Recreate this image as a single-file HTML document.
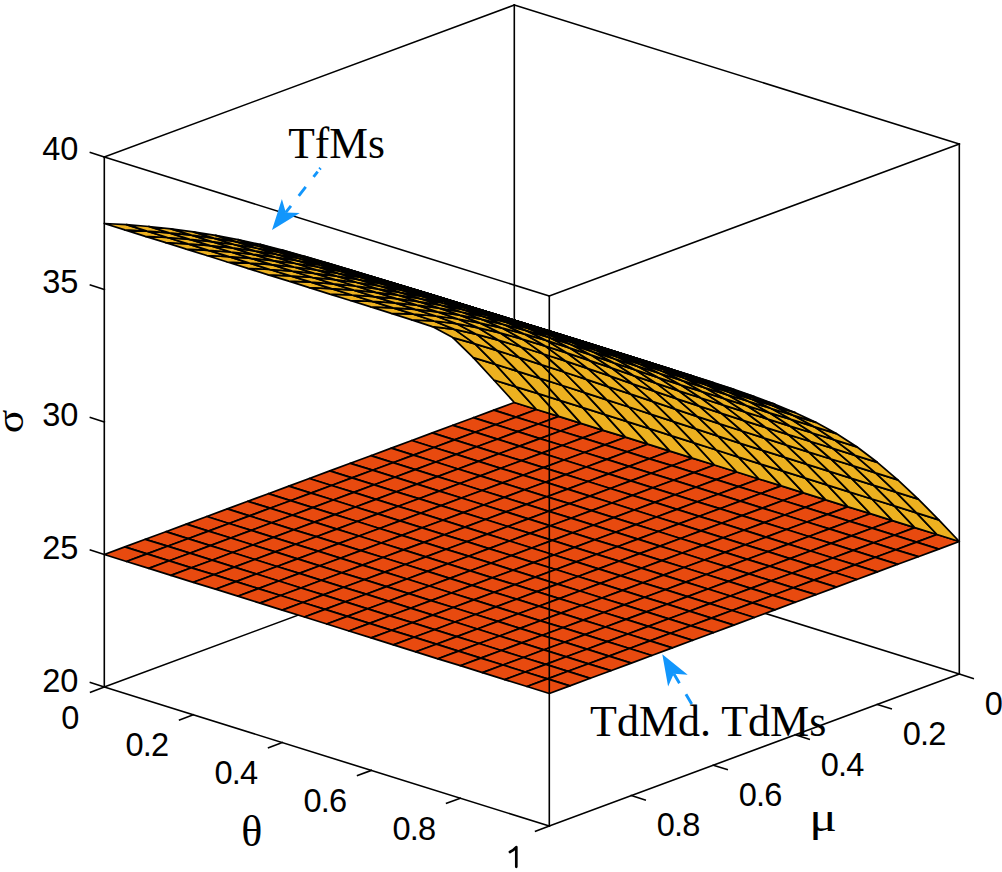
<!DOCTYPE html>
<html><head><meta charset="utf-8"><title>surface</title>
<style>html,body{margin:0;padding:0;background:#fff;overflow:hidden;}svg{display:block;}</style>
</head><body>
<svg width="1002" height="872" viewBox="0 0 1002 872">
<rect width="1002" height="872" fill="#fff"/>
<g stroke-linecap="square"><line x1="514.3" y1="5" x2="514.3" y2="535" stroke="#000" stroke-width="1.6"/><line x1="514.3" y1="535" x2="104.3" y2="687" stroke="#000" stroke-width="1.6"/><line x1="514.3" y1="535" x2="959.3" y2="674" stroke="#000" stroke-width="1.6"/><line x1="104.3" y1="157" x2="514.3" y2="5" stroke="#000" stroke-width="1.6"/><line x1="514.3" y1="5" x2="959.3" y2="144" stroke="#000" stroke-width="1.6"/></g>
<g stroke="#000" stroke-width="1.75" stroke-linejoin="round"><path d="M514.3 402.5 L536.5 409.5 L516 417.1 L493.8 410.1Z" fill="#e84a0f"/><path d="M514.3 402.5 L536.5 409.5 L516 386.8 L493.8 380Z" fill="#edb120"/><path d="M536.5 409.5 L558.8 416.4 L538.3 424 L516 417.1Z" fill="#e84a0f"/><path d="M493.8 410.1 L516 417.1 L495.5 424.7 L473.3 417.7Z" fill="#e84a0f"/><path d="M536.5 409.5 L558.8 416.4 L538.3 393.7 L516 386.8Z" fill="#edb120"/><path d="M493.8 380 L516 386.8 L495.5 364.4 L473.3 357.6Z" fill="#edb120"/><path d="M558.8 416.4 L581 423.4 L560.5 431 L538.3 424Z" fill="#e84a0f"/><path d="M516 417.1 L538.3 424 L517.8 431.6 L495.5 424.7Z" fill="#e84a0f"/><path d="M473.3 417.7 L495.5 424.7 L475 432.2 L452.8 425.3Z" fill="#e84a0f"/><path d="M558.8 416.4 L581 423.4 L560.5 400.6 L538.3 393.7Z" fill="#edb120"/><path d="M516 386.8 L538.3 393.7 L517.8 371.3 L495.5 364.4Z" fill="#edb120"/><path d="M581 423.4 L603.3 430.3 L582.8 437.9 L560.5 431Z" fill="#e84a0f"/><path d="M538.3 424 L560.5 431 L540 438.6 L517.8 431.6Z" fill="#e84a0f"/><path d="M495.5 424.7 L517.8 431.6 L497.3 439.2 L475 432.2Z" fill="#e84a0f"/><path d="M452.8 425.3 L475 432.2 L454.5 439.9 L432.3 432.9Z" fill="#e84a0f"/><path d="M581 423.4 L603.3 430.3 L582.8 407.6 L560.5 400.6Z" fill="#edb120"/><path d="M473.3 357.6 L495.5 364.4 L475 343.9 L452.8 337.6Z" fill="#edb120"/><path d="M538.3 393.7 L560.5 400.6 L540 378.4 L517.8 371.3Z" fill="#edb120"/><path d="M603.3 430.3 L625.5 437.2 L605 444.9 L582.8 437.9Z" fill="#e84a0f"/><path d="M560.5 431 L582.8 437.9 L562.3 445.5 L540 438.6Z" fill="#e84a0f"/><path d="M517.8 431.6 L540 438.6 L519.5 446.1 L497.3 439.2Z" fill="#e84a0f"/><path d="M475 432.2 L497.3 439.2 L476.8 446.8 L454.5 439.9Z" fill="#e84a0f"/><path d="M603.3 430.3 L625.5 437.2 L605 414.6 L582.8 407.6Z" fill="#edb120"/><path d="M432.3 432.9 L454.5 439.9 L434 447.5 L411.8 440.5Z" fill="#e84a0f"/><path d="M495.5 364.4 L517.8 371.3 L497.3 350.7 L475 343.9Z" fill="#edb120"/><path d="M560.5 400.6 L582.8 407.6 L562.3 385.5 L540 378.4Z" fill="#edb120"/><path d="M625.5 437.2 L647.8 444.2 L627.3 451.8 L605 444.9Z" fill="#e84a0f"/><path d="M582.8 437.9 L605 444.9 L584.5 452.5 L562.3 445.5Z" fill="#e84a0f"/><path d="M452.8 337.6 L475 343.9 L454.5 329.4 L432.3 326.6Z" fill="#edb120"/><path d="M540 438.6 L562.3 445.5 L541.8 453.1 L519.5 446.1Z" fill="#e84a0f"/><path d="M497.3 439.2 L519.5 446.1 L499 453.8 L476.8 446.8Z" fill="#e84a0f"/><path d="M625.5 437.2 L647.8 444.2 L627.3 421.6 L605 414.6Z" fill="#edb120"/><path d="M454.5 439.9 L476.8 446.8 L456.3 454.4 L434 447.5Z" fill="#e84a0f"/><path d="M411.8 440.5 L434 447.5 L413.5 455.1 L391.3 448.1Z" fill="#e84a0f"/><path d="M517.8 371.3 L540 378.4 L519.5 357.7 L497.3 350.7Z" fill="#edb120"/><path d="M582.8 407.6 L605 414.6 L584.5 392.6 L562.3 385.5Z" fill="#edb120"/><path d="M647.8 444.2 L670 451.1 L649.5 458.8 L627.3 451.8Z" fill="#e84a0f"/><path d="M605 444.9 L627.3 451.8 L606.8 459.4 L584.5 452.5Z" fill="#e84a0f"/><path d="M475 343.9 L497.3 350.7 L476.8 334.4 L454.5 329.4Z" fill="#edb120"/><path d="M562.3 445.5 L584.5 452.5 L564 460 L541.8 453.1Z" fill="#e84a0f"/><path d="M519.5 446.1 L541.8 453.1 L521.3 460.7 L499 453.8Z" fill="#e84a0f"/><path d="M647.8 444.2 L670 451.1 L649.5 428.7 L627.3 421.6Z" fill="#edb120"/><path d="M476.8 446.8 L499 453.8 L478.5 461.4 L456.3 454.4Z" fill="#e84a0f"/><path d="M434 447.5 L456.3 454.4 L435.8 462 L413.5 455.1Z" fill="#e84a0f"/><path d="M391.3 448.1 L413.5 455.1 L393 462.7 L370.8 455.7Z" fill="#e84a0f"/><path d="M432.3 326.6 L454.5 329.4 L434 321 L411.8 319.8Z" fill="#edb120"/><path d="M540 378.4 L562.3 385.5 L541.8 364.8 L519.5 357.7Z" fill="#edb120"/><path d="M605 414.6 L627.3 421.6 L606.8 399.8 L584.5 392.6Z" fill="#edb120"/><path d="M670 451.1 L692.3 458.1 L671.8 465.7 L649.5 458.8Z" fill="#e84a0f"/><path d="M627.3 451.8 L649.5 458.8 L629 466.4 L606.8 459.4Z" fill="#e84a0f"/><path d="M584.5 452.5 L606.8 459.4 L586.3 467 L564 460Z" fill="#e84a0f"/><path d="M497.3 350.7 L519.5 357.7 L499 340.4 L476.8 334.4Z" fill="#edb120"/><path d="M541.8 453.1 L564 460 L543.5 467.6 L521.3 460.7Z" fill="#e84a0f"/><path d="M670 451.1 L692.3 458.1 L671.8 435.8 L649.5 428.7Z" fill="#edb120"/><path d="M499 453.8 L521.3 460.7 L500.8 468.3 L478.5 461.4Z" fill="#e84a0f"/><path d="M456.3 454.4 L478.5 461.4 L458 469 L435.8 462Z" fill="#e84a0f"/><path d="M413.5 455.1 L435.8 462 L415.3 469.6 L393 462.7Z" fill="#e84a0f"/><path d="M562.3 385.5 L584.5 392.6 L564 372 L541.8 364.8Z" fill="#edb120"/><path d="M370.8 455.7 L393 462.7 L372.5 470.2 L350.3 463.3Z" fill="#e84a0f"/><path d="M454.5 329.4 L476.8 334.4 L456.3 323.6 L434 321Z" fill="#edb120"/><path d="M411.8 319.8 L434 321 L413.5 314.2 L391.3 313.3Z" fill="#edb120"/><path d="M627.3 421.6 L649.5 428.7 L629 407 L606.8 399.8Z" fill="#edb120"/><path d="M692.3 458.1 L714.5 465 L694 472.6 L671.8 465.7Z" fill="#e84a0f"/><path d="M649.5 458.8 L671.8 465.7 L651.3 473.3 L629 466.4Z" fill="#e84a0f"/><path d="M606.8 459.4 L629 466.4 L608.5 473.9 L586.3 467Z" fill="#e84a0f"/><path d="M519.5 357.7 L541.8 364.8 L521.3 347 L499 340.4Z" fill="#edb120"/><path d="M564 460 L586.3 467 L565.8 474.6 L543.5 467.6Z" fill="#e84a0f"/><path d="M692.3 458.1 L714.5 465 L694 442.9 L671.8 435.8Z" fill="#edb120"/><path d="M521.3 460.7 L543.5 467.6 L523 475.2 L500.8 468.3Z" fill="#e84a0f"/><path d="M478.5 461.4 L500.8 468.3 L480.3 475.9 L458 469Z" fill="#e84a0f"/><path d="M435.8 462 L458 469 L437.5 476.6 L415.3 469.6Z" fill="#e84a0f"/><path d="M584.5 392.6 L606.8 399.8 L586.3 379.4 L564 372Z" fill="#edb120"/><path d="M393 462.7 L415.3 469.6 L394.8 477.2 L372.5 470.2Z" fill="#e84a0f"/><path d="M476.8 334.4 L499 340.4 L478.5 327.9 L456.3 323.6Z" fill="#edb120"/><path d="M350.3 463.3 L372.5 470.2 L352 477.9 L329.8 470.9Z" fill="#e84a0f"/><path d="M649.5 428.7 L671.8 435.8 L651.3 414.3 L629 407Z" fill="#edb120"/><path d="M714.5 465 L736.8 472 L716.3 479.6 L694 472.6Z" fill="#e84a0f"/><path d="M434 321 L456.3 323.6 L435.8 316 L413.5 314.2Z" fill="#edb120"/><path d="M671.8 465.7 L694 472.6 L673.5 480.2 L651.3 473.3Z" fill="#e84a0f"/><path d="M629 466.4 L651.3 473.3 L630.8 480.9 L608.5 473.9Z" fill="#e84a0f"/><path d="M541.8 364.8 L564 372 L543.5 354 L521.3 347Z" fill="#edb120"/><path d="M586.3 467 L608.5 473.9 L588 481.5 L565.8 474.6Z" fill="#e84a0f"/><path d="M714.5 465 L736.8 472 L716.3 450 L694 442.9Z" fill="#edb120"/><path d="M391.3 313.3 L413.5 314.2 L393 307.8 L370.8 306.9Z" fill="#edb120"/><path d="M543.5 467.6 L565.8 474.6 L545.3 482.2 L523 475.2Z" fill="#e84a0f"/><path d="M500.8 468.3 L523 475.2 L502.5 482.9 L480.3 475.9Z" fill="#e84a0f"/><path d="M458 469 L480.3 475.9 L459.8 483.5 L437.5 476.6Z" fill="#e84a0f"/><path d="M606.8 399.8 L629 407 L608.5 386.8 L586.3 379.4Z" fill="#edb120"/><path d="M415.3 469.6 L437.5 476.6 L417 484.1 L394.8 477.2Z" fill="#e84a0f"/><path d="M499 340.4 L521.3 347 L500.8 333.2 L478.5 327.9Z" fill="#edb120"/><path d="M372.5 470.2 L394.8 477.2 L374.3 484.8 L352 477.9Z" fill="#e84a0f"/><path d="M329.8 470.9 L352 477.9 L331.5 485.5 L309.3 478.5Z" fill="#e84a0f"/><path d="M671.8 435.8 L694 442.9 L673.5 421.6 L651.3 414.3Z" fill="#edb120"/><path d="M736.8 472 L759 479 L738.5 486.6 L716.3 479.6Z" fill="#e84a0f"/><path d="M694 472.6 L716.3 479.6 L695.8 487.2 L673.5 480.2Z" fill="#e84a0f"/><path d="M456.3 323.6 L478.5 327.9 L458 319 L435.8 316Z" fill="#edb120"/><path d="M651.3 473.3 L673.5 480.2 L653 487.8 L630.8 480.9Z" fill="#e84a0f"/><path d="M564 372 L586.3 379.4 L565.8 361.2 L543.5 354Z" fill="#edb120"/><path d="M608.5 473.9 L630.8 480.9 L610.3 488.5 L588 481.5Z" fill="#e84a0f"/><path d="M736.8 472 L759 479 L738.5 457.1 L716.3 450Z" fill="#edb120"/><path d="M565.8 474.6 L588 481.5 L567.5 489.1 L545.3 482.2Z" fill="#e84a0f"/><path d="M413.5 314.2 L435.8 316 L415.3 309.4 L393 307.8Z" fill="#edb120"/><path d="M523 475.2 L545.3 482.2 L524.8 489.8 L502.5 482.9Z" fill="#e84a0f"/><path d="M480.3 475.9 L502.5 482.9 L482 490.5 L459.8 483.5Z" fill="#e84a0f"/><path d="M629 407 L651.3 414.3 L630.8 394.2 L608.5 386.8Z" fill="#edb120"/><path d="M437.5 476.6 L459.8 483.5 L439.3 491.1 L417 484.1Z" fill="#e84a0f"/><path d="M370.8 306.9 L393 307.8 L372.5 301.4 L350.3 300.5Z" fill="#edb120"/><path d="M521.3 347 L543.5 354 L523 339.4 L500.8 333.2Z" fill="#edb120"/><path d="M394.8 477.2 L417 484.1 L396.5 491.8 L374.3 484.8Z" fill="#e84a0f"/><path d="M352 477.9 L374.3 484.8 L353.8 492.4 L331.5 485.5Z" fill="#e84a0f"/><path d="M309.3 478.5 L331.5 485.5 L311 493.1 L288.8 486.1Z" fill="#e84a0f"/><path d="M694 442.9 L716.3 450 L695.8 428.9 L673.5 421.6Z" fill="#edb120"/><path d="M759 479 L781.3 485.9 L760.8 493.5 L738.5 486.6Z" fill="#e84a0f"/><path d="M716.3 479.6 L738.5 486.6 L718 494.2 L695.8 487.2Z" fill="#e84a0f"/><path d="M478.5 327.9 L500.8 333.2 L480.3 323.1 L458 319Z" fill="#edb120"/><path d="M673.5 480.2 L695.8 487.2 L675.3 494.8 L653 487.8Z" fill="#e84a0f"/><path d="M586.3 379.4 L608.5 386.8 L588 368.6 L565.8 361.2Z" fill="#edb120"/><path d="M630.8 480.9 L653 487.8 L632.5 495.4 L610.3 488.5Z" fill="#e84a0f"/><path d="M759 479 L781.3 485.9 L760.8 464.1 L738.5 457.1Z" fill="#edb120"/><path d="M588 481.5 L610.3 488.5 L589.8 496.1 L567.5 489.1Z" fill="#e84a0f"/><path d="M545.3 482.2 L567.5 489.1 L547 496.8 L524.8 489.8Z" fill="#e84a0f"/><path d="M435.8 316 L458 319 L437.5 311.8 L415.3 309.4Z" fill="#edb120"/><path d="M502.5 482.9 L524.8 489.8 L504.3 497.4 L482 490.5Z" fill="#e84a0f"/><path d="M651.3 414.3 L673.5 421.6 L653 401.7 L630.8 394.2Z" fill="#edb120"/><path d="M459.8 483.5 L482 490.5 L461.5 498 L439.3 491.1Z" fill="#e84a0f"/><path d="M543.5 354 L565.8 361.2 L545.3 346.1 L523 339.4Z" fill="#edb120"/><path d="M417 484.1 L439.3 491.1 L418.8 498.7 L396.5 491.8Z" fill="#e84a0f"/><path d="M393 307.8 L415.3 309.4 L394.8 302.9 L372.5 301.4Z" fill="#edb120"/><path d="M374.3 484.8 L396.5 491.8 L376 499.4 L353.8 492.4Z" fill="#e84a0f"/><path d="M331.5 485.5 L353.8 492.4 L333.3 500 L311 493.1Z" fill="#e84a0f"/><path d="M716.3 450 L738.5 457.1 L718 436.1 L695.8 428.9Z" fill="#edb120"/><path d="M781.3 485.9 L803.5 492.9 L783 500.5 L760.8 493.5Z" fill="#e84a0f"/><path d="M288.8 486.1 L311 493.1 L290.5 500.7 L268.3 493.7Z" fill="#e84a0f"/><path d="M350.3 300.5 L372.5 301.4 L352 295 L329.8 294.1Z" fill="#edb120"/><path d="M738.5 486.6 L760.8 493.5 L740.3 501.1 L718 494.2Z" fill="#e84a0f"/><path d="M608.5 386.8 L630.8 394.2 L610.3 376.1 L588 368.6Z" fill="#edb120"/><path d="M695.8 487.2 L718 494.2 L697.5 501.8 L675.3 494.8Z" fill="#e84a0f"/><path d="M500.8 333.2 L523 339.4 L502.5 328.2 L480.3 323.1Z" fill="#edb120"/><path d="M653 487.8 L675.3 494.8 L654.8 502.4 L632.5 495.4Z" fill="#e84a0f"/><path d="M781.3 485.9 L803.5 492.9 L783 471.1 L760.8 464.1Z" fill="#edb120"/><path d="M610.3 488.5 L632.5 495.4 L612 503 L589.8 496.1Z" fill="#e84a0f"/><path d="M567.5 489.1 L589.8 496.1 L569.3 503.7 L547 496.8Z" fill="#e84a0f"/><path d="M524.8 489.8 L547 496.8 L526.5 504.4 L504.3 497.4Z" fill="#e84a0f"/><path d="M673.5 421.6 L695.8 428.9 L675.3 409.2 L653 401.7Z" fill="#edb120"/><path d="M458 319 L480.3 323.1 L459.8 315.1 L437.5 311.8Z" fill="#edb120"/><path d="M482 490.5 L504.3 497.4 L483.8 505 L461.5 498Z" fill="#e84a0f"/><path d="M565.8 361.2 L588 368.6 L567.5 353.2 L545.3 346.1Z" fill="#edb120"/><path d="M439.3 491.1 L461.5 498 L441 505.6 L418.8 498.7Z" fill="#e84a0f"/><path d="M396.5 491.8 L418.8 498.7 L398.3 506.3 L376 499.4Z" fill="#e84a0f"/><path d="M415.3 309.4 L437.5 311.8 L417 305.1 L394.8 302.9Z" fill="#edb120"/><path d="M353.8 492.4 L376 499.4 L355.5 507 L333.3 500Z" fill="#e84a0f"/><path d="M738.5 457.1 L760.8 464.1 L740.3 443.3 L718 436.1Z" fill="#edb120"/><path d="M803.5 492.9 L825.8 499.8 L805.3 507.4 L783 500.5Z" fill="#e84a0f"/><path d="M311 493.1 L333.3 500 L312.8 507.6 L290.5 500.7Z" fill="#e84a0f"/><path d="M760.8 493.5 L783 500.5 L762.5 508.1 L740.3 501.1Z" fill="#e84a0f"/><path d="M268.3 493.7 L290.5 500.7 L270 508.2 L247.8 501.3Z" fill="#e84a0f"/><path d="M372.5 301.4 L394.8 302.9 L374.3 296.6 L352 295Z" fill="#edb120"/><path d="M630.8 394.2 L653 401.7 L632.5 383.8 L610.3 376.1Z" fill="#edb120"/><path d="M718 494.2 L740.3 501.1 L719.8 508.7 L697.5 501.8Z" fill="#e84a0f"/><path d="M523 339.4 L545.3 346.1 L524.8 334.2 L502.5 328.2Z" fill="#edb120"/><path d="M675.3 494.8 L697.5 501.8 L677 509.4 L654.8 502.4Z" fill="#e84a0f"/><path d="M803.5 492.9 L825.8 499.8 L805.3 478.1 L783 471.1Z" fill="#edb120"/><path d="M632.5 495.4 L654.8 502.4 L634.3 510 L612 503Z" fill="#e84a0f"/><path d="M329.8 294.1 L352 295 L331.5 288.6 L309.3 287.6Z" fill="#edb120"/><path d="M589.8 496.1 L612 503 L591.5 510.6 L569.3 503.7Z" fill="#e84a0f"/><path d="M547 496.8 L569.3 503.7 L548.8 511.3 L526.5 504.4Z" fill="#e84a0f"/><path d="M695.8 428.9 L718 436.1 L697.5 416.6 L675.3 409.2Z" fill="#edb120"/><path d="M480.3 323.1 L502.5 328.2 L482 319.4 L459.8 315.1Z" fill="#edb120"/><path d="M504.3 497.4 L526.5 504.4 L506 511.9 L483.8 505Z" fill="#e84a0f"/><path d="M588 368.6 L610.3 376.1 L589.8 360.6 L567.5 353.2Z" fill="#edb120"/><path d="M461.5 498 L483.8 505 L463.3 512.6 L441 505.6Z" fill="#e84a0f"/><path d="M418.8 498.7 L441 505.6 L420.5 513.2 L398.3 506.3Z" fill="#e84a0f"/><path d="M376 499.4 L398.3 506.3 L377.8 513.9 L355.5 507Z" fill="#e84a0f"/><path d="M760.8 464.1 L783 471.1 L762.5 450.4 L740.3 443.3Z" fill="#edb120"/><path d="M437.5 311.8 L459.8 315.1 L439.3 308.1 L417 305.1Z" fill="#edb120"/><path d="M825.8 499.8 L848 506.8 L827.5 514.4 L805.3 507.4Z" fill="#e84a0f"/><path d="M333.3 500 L355.5 507 L335 514.6 L312.8 507.6Z" fill="#e84a0f"/><path d="M783 500.5 L805.3 507.4 L784.8 515 L762.5 508.1Z" fill="#e84a0f"/><path d="M290.5 500.7 L312.8 507.6 L292.3 515.2 L270 508.2Z" fill="#e84a0f"/><path d="M653 401.7 L675.3 409.2 L654.8 391.4 L632.5 383.8Z" fill="#edb120"/><path d="M740.3 501.1 L762.5 508.1 L742 515.6 L719.8 508.7Z" fill="#e84a0f"/><path d="M247.8 501.3 L270 508.2 L249.5 515.9 L227.3 508.9Z" fill="#e84a0f"/><path d="M394.8 302.9 L417 305.1 L396.5 298.7 L374.3 296.6Z" fill="#edb120"/><path d="M545.3 346.1 L567.5 353.2 L547 340.7 L524.8 334.2Z" fill="#edb120"/><path d="M697.5 501.8 L719.8 508.7 L699.3 516.3 L677 509.4Z" fill="#e84a0f"/><path d="M825.8 499.8 L848 506.8 L827.5 485.1 L805.3 478.1Z" fill="#edb120"/><path d="M654.8 502.4 L677 509.4 L656.5 517 L634.3 510Z" fill="#e84a0f"/><path d="M612 503 L634.3 510 L613.8 517.6 L591.5 510.6Z" fill="#e84a0f"/><path d="M352 295 L374.3 296.6 L353.8 290.2 L331.5 288.6Z" fill="#edb120"/><path d="M718 436.1 L740.3 443.3 L719.8 423.8 L697.5 416.6Z" fill="#edb120"/><path d="M569.3 503.7 L591.5 510.6 L571 518.2 L548.8 511.3Z" fill="#e84a0f"/><path d="M526.5 504.4 L548.8 511.3 L528.3 518.9 L506 511.9Z" fill="#e84a0f"/><path d="M502.5 328.2 L524.8 334.2 L504.3 324.7 L482 319.4Z" fill="#edb120"/><path d="M610.3 376.1 L632.5 383.8 L612 368.2 L589.8 360.6Z" fill="#edb120"/><path d="M309.3 287.6 L331.5 288.6 L311 282.2 L288.8 281.2Z" fill="#edb120"/><path d="M483.8 505 L506 511.9 L485.5 519.5 L463.3 512.6Z" fill="#e84a0f"/><path d="M441 505.6 L463.3 512.6 L442.8 520.2 L420.5 513.2Z" fill="#e84a0f"/><path d="M783 471.1 L805.3 478.1 L784.8 457.4 L762.5 450.4Z" fill="#edb120"/><path d="M398.3 506.3 L420.5 513.2 L400 520.9 L377.8 513.9Z" fill="#e84a0f"/><path d="M848 506.8 L870.3 513.7 L849.8 521.3 L827.5 514.4Z" fill="#e84a0f"/><path d="M459.8 315.1 L482 319.4 L461.5 312 L439.3 308.1Z" fill="#edb120"/><path d="M355.5 507 L377.8 513.9 L357.3 521.5 L335 514.6Z" fill="#e84a0f"/><path d="M805.3 507.4 L827.5 514.4 L807 522 L784.8 515Z" fill="#e84a0f"/><path d="M312.8 507.6 L335 514.6 L314.5 522.1 L292.3 515.2Z" fill="#e84a0f"/><path d="M675.3 409.2 L697.5 416.6 L677 398.9 L654.8 391.4Z" fill="#edb120"/><path d="M762.5 508.1 L784.8 515 L764.3 522.6 L742 515.6Z" fill="#e84a0f"/><path d="M270 508.2 L292.3 515.2 L271.8 522.8 L249.5 515.9Z" fill="#e84a0f"/><path d="M567.5 353.2 L589.8 360.6 L569.3 347.8 L547 340.7Z" fill="#edb120"/><path d="M719.8 508.7 L742 515.6 L721.5 523.2 L699.3 516.3Z" fill="#e84a0f"/><path d="M848 506.8 L870.3 513.7 L849.8 492.1 L827.5 485.1Z" fill="#edb120"/><path d="M227.3 508.9 L249.5 515.9 L229 523.5 L206.8 516.5Z" fill="#e84a0f"/><path d="M417 305.1 L439.3 308.1 L418.8 301.6 L396.5 298.7Z" fill="#edb120"/><path d="M677 509.4 L699.3 516.3 L678.8 523.9 L656.5 517Z" fill="#e84a0f"/><path d="M634.3 510 L656.5 517 L636 524.6 L613.8 517.6Z" fill="#e84a0f"/><path d="M740.3 443.3 L762.5 450.4 L742 431 L719.8 423.8Z" fill="#edb120"/><path d="M591.5 510.6 L613.8 517.6 L593.3 525.2 L571 518.2Z" fill="#e84a0f"/><path d="M374.3 296.6 L396.5 298.7 L376 292.3 L353.8 290.2Z" fill="#edb120"/><path d="M548.8 511.3 L571 518.2 L550.5 525.8 L528.3 518.9Z" fill="#e84a0f"/><path d="M524.8 334.2 L547 340.7 L526.5 330.6 L504.3 324.7Z" fill="#edb120"/><path d="M632.5 383.8 L654.8 391.4 L634.3 375.9 L612 368.2Z" fill="#edb120"/><path d="M506 511.9 L528.3 518.9 L507.8 526.5 L485.5 519.5Z" fill="#e84a0f"/><path d="M463.3 512.6 L485.5 519.5 L465 527.1 L442.8 520.2Z" fill="#e84a0f"/><path d="M331.5 288.6 L353.8 290.2 L333.3 283.8 L311 282.2Z" fill="#edb120"/><path d="M805.3 478.1 L827.5 485.1 L807 464.4 L784.8 457.4Z" fill="#edb120"/><path d="M420.5 513.2 L442.8 520.2 L422.3 527.8 L400 520.9Z" fill="#e84a0f"/><path d="M870.3 513.7 L892.5 520.6 L872 528.2 L849.8 521.3Z" fill="#e84a0f"/><path d="M377.8 513.9 L400 520.9 L379.5 528.5 L357.3 521.5Z" fill="#e84a0f"/><path d="M482 319.4 L504.3 324.7 L483.8 316.7 L461.5 312Z" fill="#edb120"/><path d="M827.5 514.4 L849.8 521.3 L829.3 528.9 L807 522Z" fill="#e84a0f"/><path d="M288.8 281.2 L311 282.2 L290.5 275.8 L268.3 274.8Z" fill="#edb120"/><path d="M335 514.6 L357.3 521.5 L336.8 529.1 L314.5 522.1Z" fill="#e84a0f"/><path d="M697.5 416.6 L719.8 423.8 L699.3 406.2 L677 398.9Z" fill="#edb120"/><path d="M784.8 515 L807 522 L786.5 529.5 L764.3 522.6Z" fill="#e84a0f"/><path d="M292.3 515.2 L314.5 522.1 L294 529.8 L271.8 522.8Z" fill="#e84a0f"/><path d="M589.8 360.6 L612 368.2 L591.5 355.2 L569.3 347.8Z" fill="#edb120"/><path d="M742 515.6 L764.3 522.6 L743.8 530.2 L721.5 523.2Z" fill="#e84a0f"/><path d="M870.3 513.7 L892.5 520.6 L872 499 L849.8 492.1Z" fill="#edb120"/><path d="M249.5 515.9 L271.8 522.8 L251.3 530.4 L229 523.5Z" fill="#e84a0f"/><path d="M699.3 516.3 L721.5 523.2 L701 530.9 L678.8 523.9Z" fill="#e84a0f"/><path d="M439.3 308.1 L461.5 312 L441 305.2 L418.8 301.6Z" fill="#edb120"/><path d="M206.8 516.5 L229 523.5 L208.5 531.1 L186.3 524.1Z" fill="#e84a0f"/><path d="M656.5 517 L678.8 523.9 L658.3 531.5 L636 524.6Z" fill="#e84a0f"/><path d="M762.5 450.4 L784.8 457.4 L764.3 438.1 L742 431Z" fill="#edb120"/><path d="M613.8 517.6 L636 524.6 L615.5 532.2 L593.3 525.2Z" fill="#e84a0f"/><path d="M571 518.2 L593.3 525.2 L572.8 532.8 L550.5 525.8Z" fill="#e84a0f"/><path d="M396.5 298.7 L418.8 301.6 L398.3 295.1 L376 292.3Z" fill="#edb120"/><path d="M547 340.7 L569.3 347.8 L548.8 337.3 L526.5 330.6Z" fill="#edb120"/><path d="M654.8 391.4 L677 398.9 L656.5 383.4 L634.3 375.9Z" fill="#edb120"/><path d="M528.3 518.9 L550.5 525.8 L530 533.4 L507.8 526.5Z" fill="#e84a0f"/><path d="M485.5 519.5 L507.8 526.5 L487.3 534.1 L465 527.1Z" fill="#e84a0f"/><path d="M827.5 485.1 L849.8 492.1 L829.3 471.4 L807 464.4Z" fill="#edb120"/><path d="M442.8 520.2 L465 527.1 L444.5 534.8 L422.3 527.8Z" fill="#e84a0f"/><path d="M353.8 290.2 L376 292.3 L355.5 286 L333.3 283.8Z" fill="#edb120"/><path d="M892.5 520.6 L914.8 527.6 L894.3 535.2 L872 528.2Z" fill="#e84a0f"/><path d="M400 520.9 L422.3 527.8 L401.8 535.4 L379.5 528.5Z" fill="#e84a0f"/><path d="M504.3 324.7 L526.5 330.6 L506 322.2 L483.8 316.7Z" fill="#edb120"/><path d="M849.8 521.3 L872 528.2 L851.5 535.9 L829.3 528.9Z" fill="#e84a0f"/><path d="M357.3 521.5 L379.5 528.5 L359 536 L336.8 529.1Z" fill="#e84a0f"/><path d="M719.8 423.8 L742 431 L721.5 413.4 L699.3 406.2Z" fill="#edb120"/><path d="M807 522 L829.3 528.9 L808.8 536.5 L786.5 529.5Z" fill="#e84a0f"/><path d="M311 282.2 L333.3 283.8 L312.8 277.5 L290.5 275.8Z" fill="#edb120"/><path d="M314.5 522.1 L336.8 529.1 L316.3 536.7 L294 529.8Z" fill="#e84a0f"/><path d="M612 368.2 L634.3 375.9 L613.8 362.8 L591.5 355.2Z" fill="#edb120"/><path d="M764.3 522.6 L786.5 529.5 L766 537.1 L743.8 530.2Z" fill="#e84a0f"/><path d="M892.5 520.6 L914.8 527.6 L894.3 505.9 L872 499Z" fill="#edb120"/><path d="M271.8 522.8 L294 529.8 L273.5 537.4 L251.3 530.4Z" fill="#e84a0f"/><path d="M721.5 523.2 L743.8 530.2 L723.3 537.8 L701 530.9Z" fill="#e84a0f"/><path d="M229 523.5 L251.3 530.4 L230.8 538 L208.5 531.1Z" fill="#e84a0f"/><path d="M461.5 312 L483.8 316.7 L463.3 309.6 L441 305.2Z" fill="#edb120"/><path d="M268.3 274.8 L290.5 275.8 L270 269.5 L247.8 268.4Z" fill="#edb120"/><path d="M678.8 523.9 L701 530.9 L680.5 538.5 L658.3 531.5Z" fill="#e84a0f"/><path d="M186.3 524.1 L208.5 531.1 L188 538.7 L165.8 531.7Z" fill="#e84a0f"/><path d="M784.8 457.4 L807 464.4 L786.5 445.1 L764.3 438.1Z" fill="#edb120"/><path d="M636 524.6 L658.3 531.5 L637.8 539.1 L615.5 532.2Z" fill="#e84a0f"/><path d="M593.3 525.2 L615.5 532.2 L595 539.8 L572.8 532.8Z" fill="#e84a0f"/><path d="M569.3 347.8 L591.5 355.2 L571 344.5 L548.8 337.3Z" fill="#edb120"/><path d="M677 398.9 L699.3 406.2 L678.8 390.8 L656.5 383.4Z" fill="#edb120"/><path d="M418.8 301.6 L441 305.2 L420.5 298.7 L398.3 295.1Z" fill="#edb120"/><path d="M550.5 525.8 L572.8 532.8 L552.3 540.4 L530 533.4Z" fill="#e84a0f"/><path d="M507.8 526.5 L530 533.4 L509.5 541 L487.3 534.1Z" fill="#e84a0f"/><path d="M849.8 492.1 L872 499 L851.5 478.3 L829.3 471.4Z" fill="#edb120"/><path d="M465 527.1 L487.3 534.1 L466.8 541.7 L444.5 534.8Z" fill="#e84a0f"/><path d="M914.8 527.6 L937 534.5 L916.5 542.1 L894.3 535.2Z" fill="#e84a0f"/><path d="M422.3 527.8 L444.5 534.8 L424 542.4 L401.8 535.4Z" fill="#e84a0f"/><path d="M376 292.3 L398.3 295.1 L377.8 288.8 L355.5 286Z" fill="#edb120"/><path d="M872 528.2 L894.3 535.2 L873.8 542.8 L851.5 535.9Z" fill="#e84a0f"/><path d="M526.5 330.6 L548.8 337.3 L528.3 328.5 L506 322.2Z" fill="#edb120"/><path d="M379.5 528.5 L401.8 535.4 L381.3 543 L359 536Z" fill="#e84a0f"/><path d="M742 431 L764.3 438.1 L743.8 420.6 L721.5 413.4Z" fill="#edb120"/><path d="M829.3 528.9 L851.5 535.9 L831 543.4 L808.8 536.5Z" fill="#e84a0f"/><path d="M634.3 375.9 L656.5 383.4 L636 370.2 L613.8 362.8Z" fill="#edb120"/><path d="M336.8 529.1 L359 536 L338.5 543.6 L316.3 536.7Z" fill="#e84a0f"/><path d="M786.5 529.5 L808.8 536.5 L788.3 544.1 L766 537.1Z" fill="#e84a0f"/><path d="M914.8 527.6 L937 534.5 L916.5 512.9 L894.3 505.9Z" fill="#edb120"/><path d="M333.3 283.8 L355.5 286 L335 279.6 L312.8 277.5Z" fill="#edb120"/><path d="M294 529.8 L316.3 536.7 L295.8 544.3 L273.5 537.4Z" fill="#e84a0f"/><path d="M743.8 530.2 L766 537.1 L745.5 544.8 L723.3 537.8Z" fill="#e84a0f"/><path d="M251.3 530.4 L273.5 537.4 L253 545 L230.8 538Z" fill="#e84a0f"/><path d="M701 530.9 L723.3 537.8 L702.8 545.4 L680.5 538.5Z" fill="#e84a0f"/><path d="M483.8 316.7 L506 322.2 L485.5 314.8 L463.3 309.6Z" fill="#edb120"/><path d="M208.5 531.1 L230.8 538 L210.3 545.6 L188 538.7Z" fill="#e84a0f"/><path d="M807 464.4 L829.3 471.4 L808.8 452.1 L786.5 445.1Z" fill="#edb120"/><path d="M658.3 531.5 L680.5 538.5 L660 546.1 L637.8 539.1Z" fill="#e84a0f"/><path d="M290.5 275.8 L312.8 277.5 L292.3 271.1 L270 269.5Z" fill="#edb120"/><path d="M165.8 531.7 L188 538.7 L167.5 546.2 L145.3 539.3Z" fill="#e84a0f"/><path d="M615.5 532.2 L637.8 539.1 L617.3 546.7 L595 539.8Z" fill="#e84a0f"/><path d="M591.5 355.2 L613.8 362.8 L593.3 351.9 L571 344.5Z" fill="#edb120"/><path d="M699.3 406.2 L721.5 413.4 L701 398 L678.8 390.8Z" fill="#edb120"/><path d="M572.8 532.8 L595 539.8 L574.5 547.4 L552.3 540.4Z" fill="#e84a0f"/><path d="M441 305.2 L463.3 309.6 L442.8 302.9 L420.5 298.7Z" fill="#edb120"/><path d="M247.8 268.4 L270 269.5 L249.5 263.1 L227.3 262Z" fill="#edb120"/><path d="M530 533.4 L552.3 540.4 L531.8 548 L509.5 541Z" fill="#e84a0f"/><path d="M872 499 L894.3 505.9 L873.8 485.3 L851.5 478.3Z" fill="#edb120"/><path d="M487.3 534.1 L509.5 541 L489 548.6 L466.8 541.7Z" fill="#e84a0f"/><path d="M937 534.5 L959.3 541.5 L938.8 549.1 L916.5 542.1Z" fill="#e84a0f"/><path d="M444.5 534.8 L466.8 541.7 L446.3 549.3 L424 542.4Z" fill="#e84a0f"/><path d="M894.3 535.2 L916.5 542.1 L896 549.8 L873.8 542.8Z" fill="#e84a0f"/><path d="M398.3 295.1 L420.5 298.7 L400 292.3 L377.8 288.8Z" fill="#edb120"/><path d="M548.8 337.3 L571 344.5 L550.5 335.4 L528.3 328.5Z" fill="#edb120"/><path d="M401.8 535.4 L424 542.4 L403.5 549.9 L381.3 543Z" fill="#e84a0f"/><path d="M764.3 438.1 L786.5 445.1 L766 427.6 L743.8 420.6Z" fill="#edb120"/><path d="M851.5 535.9 L873.8 542.8 L853.3 550.4 L831 543.4Z" fill="#e84a0f"/><path d="M656.5 383.4 L678.8 390.8 L658.3 377.6 L636 370.2Z" fill="#edb120"/><path d="M359 536 L381.3 543 L360.8 550.6 L338.5 543.6Z" fill="#e84a0f"/><path d="M808.8 536.5 L831 543.4 L810.5 551 L788.3 544.1Z" fill="#e84a0f"/><path d="M937 534.5 L959.3 541.5 L938.8 519.8 L916.5 512.9Z" fill="#edb120"/><path d="M316.3 536.7 L338.5 543.6 L318 551.2 L295.8 544.3Z" fill="#e84a0f"/><path d="M766 537.1 L788.3 544.1 L767.8 551.7 L745.5 544.8Z" fill="#e84a0f"/><path d="M355.5 286 L377.8 288.8 L357.3 282.5 L335 279.6Z" fill="#edb120"/><path d="M273.5 537.4 L295.8 544.3 L275.3 551.9 L253 545Z" fill="#e84a0f"/><path d="M723.3 537.8 L745.5 544.8 L725 552.4 L702.8 545.4Z" fill="#e84a0f"/><path d="M230.8 538 L253 545 L232.5 552.5 L210.3 545.6Z" fill="#e84a0f"/><path d="M506 322.2 L528.3 328.5 L507.8 320.8 L485.5 314.8Z" fill="#edb120"/><path d="M829.3 471.4 L851.5 478.3 L831 459 L808.8 452.1Z" fill="#edb120"/><path d="M680.5 538.5 L702.8 545.4 L682.3 553 L660 546.1Z" fill="#e84a0f"/><path d="M188 538.7 L210.3 545.6 L189.8 553.2 L167.5 546.2Z" fill="#e84a0f"/><path d="M637.8 539.1 L660 546.1 L639.5 553.6 L617.3 546.7Z" fill="#e84a0f"/><path d="M312.8 277.5 L335 279.6 L314.5 273.3 L292.3 271.1Z" fill="#edb120"/><path d="M613.8 362.8 L636 370.2 L615.5 359.2 L593.3 351.9Z" fill="#edb120"/><path d="M721.5 413.4 L743.8 420.6 L723.3 405.1 L701 398Z" fill="#edb120"/><path d="M145.3 539.3 L167.5 546.2 L147 553.9 L124.8 546.9Z" fill="#e84a0f"/><path d="M595 539.8 L617.3 546.7 L596.8 554.3 L574.5 547.4Z" fill="#e84a0f"/><path d="M552.3 540.4 L574.5 547.4 L554 555 L531.8 548Z" fill="#e84a0f"/><path d="M463.3 309.6 L485.5 314.8 L465 307.9 L442.8 302.9Z" fill="#edb120"/><path d="M270 269.5 L292.3 271.1 L271.8 264.7 L249.5 263.1Z" fill="#edb120"/><path d="M894.3 505.9 L916.5 512.9 L896 492.2 L873.8 485.3Z" fill="#edb120"/><path d="M509.5 541 L531.8 548 L511.3 555.6 L489 548.6Z" fill="#e84a0f"/><path d="M466.8 541.7 L489 548.6 L468.5 556.2 L446.3 549.3Z" fill="#e84a0f"/><path d="M916.5 542.1 L938.8 549.1 L918.3 556.7 L896 549.8Z" fill="#e84a0f"/><path d="M571 344.5 L593.3 351.9 L572.8 342.6 L550.5 335.4Z" fill="#edb120"/><path d="M424 542.4 L446.3 549.3 L425.8 556.9 L403.5 549.9Z" fill="#e84a0f"/><path d="M786.5 445.1 L808.8 452.1 L788.3 434.6 L766 427.6Z" fill="#edb120"/><path d="M420.5 298.7 L442.8 302.9 L422.3 296.4 L400 292.3Z" fill="#edb120"/><path d="M227.3 262 L249.5 263.1 L229 256.7 L206.8 255.5Z" fill="#edb120"/><path d="M873.8 542.8 L896 549.8 L875.5 557.3 L853.3 550.4Z" fill="#e84a0f"/><path d="M678.8 390.8 L701 398 L680.5 384.8 L658.3 377.6Z" fill="#edb120"/><path d="M381.3 543 L403.5 549.9 L383 557.5 L360.8 550.6Z" fill="#e84a0f"/><path d="M831 543.4 L853.3 550.4 L832.8 558 L810.5 551Z" fill="#e84a0f"/><path d="M338.5 543.6 L360.8 550.6 L340.3 558.2 L318 551.2Z" fill="#e84a0f"/><path d="M788.3 544.1 L810.5 551 L790 558.6 L767.8 551.7Z" fill="#e84a0f"/><path d="M295.8 544.3 L318 551.2 L297.5 558.9 L275.3 551.9Z" fill="#e84a0f"/><path d="M377.8 288.8 L400 292.3 L379.5 285.9 L357.3 282.5Z" fill="#edb120"/><path d="M745.5 544.8 L767.8 551.7 L747.3 559.3 L725 552.4Z" fill="#e84a0f"/><path d="M253 545 L275.3 551.9 L254.8 559.5 L232.5 552.5Z" fill="#e84a0f"/><path d="M528.3 328.5 L550.5 335.4 L530 327.5 L507.8 320.8Z" fill="#edb120"/><path d="M851.5 478.3 L873.8 485.3 L853.3 465.9 L831 459Z" fill="#edb120"/><path d="M702.8 545.4 L725 552.4 L704.5 560 L682.3 553Z" fill="#e84a0f"/><path d="M210.3 545.6 L232.5 552.5 L212 560.2 L189.8 553.2Z" fill="#e84a0f"/><path d="M660 546.1 L682.3 553 L661.8 560.6 L639.5 553.6Z" fill="#e84a0f"/><path d="M636 370.2 L658.3 377.6 L637.8 366.4 L615.5 359.2Z" fill="#edb120"/><path d="M743.8 420.6 L766 427.6 L745.5 412.2 L723.3 405.1Z" fill="#edb120"/><path d="M167.5 546.2 L189.8 553.2 L169.3 560.8 L147 553.9Z" fill="#e84a0f"/><path d="M335 279.6 L357.3 282.5 L336.8 276.1 L314.5 273.3Z" fill="#edb120"/><path d="M617.3 546.7 L639.5 553.6 L619 561.2 L596.8 554.3Z" fill="#e84a0f"/><path d="M124.8 546.9 L147 553.9 L126.5 561.5 L104.3 554.5Z" fill="#e84a0f"/><path d="M574.5 547.4 L596.8 554.3 L576.3 561.9 L554 555Z" fill="#e84a0f"/><path d="M485.5 314.8 L507.8 320.8 L487.3 313.7 L465 307.9Z" fill="#edb120"/><path d="M916.5 512.9 L938.8 519.8 L918.3 499.1 L896 492.2Z" fill="#edb120"/><path d="M531.8 548 L554 555 L533.5 562.6 L511.3 555.6Z" fill="#e84a0f"/><path d="M292.3 271.1 L314.5 273.3 L294 267 L271.8 264.7Z" fill="#edb120"/><path d="M489 548.6 L511.3 555.6 L490.8 563.2 L468.5 556.2Z" fill="#e84a0f"/><path d="M593.3 351.9 L615.5 359.2 L595 349.8 L572.8 342.6Z" fill="#edb120"/><path d="M446.3 549.3 L468.5 556.2 L448 563.8 L425.8 556.9Z" fill="#e84a0f"/><path d="M808.8 452.1 L831 459 L810.5 441.5 L788.3 434.6Z" fill="#edb120"/><path d="M896 549.8 L918.3 556.7 L897.8 564.3 L875.5 557.3Z" fill="#e84a0f"/><path d="M701 398 L723.3 405.1 L702.8 391.9 L680.5 384.8Z" fill="#edb120"/><path d="M442.8 302.9 L465 307.9 L444.5 301.4 L422.3 296.4Z" fill="#edb120"/><path d="M403.5 549.9 L425.8 556.9 L405.3 564.5 L383 557.5Z" fill="#e84a0f"/><path d="M249.5 263.1 L271.8 264.7 L251.3 258.4 L229 256.7Z" fill="#edb120"/><path d="M853.3 550.4 L875.5 557.3 L855 564.9 L832.8 558Z" fill="#e84a0f"/><path d="M360.8 550.6 L383 557.5 L362.5 565.1 L340.3 558.2Z" fill="#e84a0f"/><path d="M810.5 551 L832.8 558 L812.3 565.6 L790 558.6Z" fill="#e84a0f"/><path d="M318 551.2 L340.3 558.2 L319.8 565.8 L297.5 558.9Z" fill="#e84a0f"/><path d="M767.8 551.7 L790 558.6 L769.5 566.2 L747.3 559.3Z" fill="#e84a0f"/><path d="M275.3 551.9 L297.5 558.9 L277 566.5 L254.8 559.5Z" fill="#e84a0f"/><path d="M550.5 335.4 L572.8 342.6 L552.3 334.5 L530 327.5Z" fill="#edb120"/><path d="M400 292.3 L422.3 296.4 L401.8 290.1 L379.5 285.9Z" fill="#edb120"/><path d="M206.8 255.5 L229 256.7 L208.5 250.3 L186.3 249.1Z" fill="#edb120"/><path d="M873.8 485.3 L896 492.2 L875.5 472.9 L853.3 465.9Z" fill="#edb120"/><path d="M725 552.4 L747.3 559.3 L726.8 566.9 L704.5 560Z" fill="#e84a0f"/><path d="M232.5 552.5 L254.8 559.5 L234.3 567.1 L212 560.2Z" fill="#e84a0f"/><path d="M682.3 553 L704.5 560 L684 567.5 L661.8 560.6Z" fill="#e84a0f"/><path d="M658.3 377.6 L680.5 384.8 L660 373.5 L637.8 366.4Z" fill="#edb120"/><path d="M766 427.6 L788.3 434.6 L767.8 419.1 L745.5 412.2Z" fill="#edb120"/><path d="M189.8 553.2 L212 560.2 L191.5 567.8 L169.3 560.8Z" fill="#e84a0f"/><path d="M639.5 553.6 L661.8 560.6 L641.3 568.2 L619 561.2Z" fill="#e84a0f"/><path d="M147 553.9 L169.3 560.8 L148.8 568.4 L126.5 561.5Z" fill="#e84a0f"/><path d="M357.3 282.5 L379.5 285.9 L359 279.6 L336.8 276.1Z" fill="#edb120"/><path d="M596.8 554.3 L619 561.2 L598.5 568.9 L576.3 561.9Z" fill="#e84a0f"/><path d="M507.8 320.8 L530 327.5 L509.5 320.3 L487.3 313.7Z" fill="#edb120"/><path d="M554 555 L576.3 561.9 L555.8 569.5 L533.5 562.6Z" fill="#e84a0f"/><path d="M511.3 555.6 L533.5 562.6 L513 570.2 L490.8 563.2Z" fill="#e84a0f"/><path d="M615.5 359.2 L637.8 366.4 L617.3 356.9 L595 349.8Z" fill="#edb120"/><path d="M314.5 273.3 L336.8 276.1 L316.3 269.8 L294 267Z" fill="#edb120"/><path d="M468.5 556.2 L490.8 563.2 L470.3 570.8 L448 563.8Z" fill="#e84a0f"/><path d="M831 459 L853.3 465.9 L832.8 448.4 L810.5 441.5Z" fill="#edb120"/><path d="M723.3 405.1 L745.5 412.2 L725 398.9 L702.8 391.9Z" fill="#edb120"/><path d="M425.8 556.9 L448 563.8 L427.5 571.4 L405.3 564.5Z" fill="#e84a0f"/><path d="M465 307.9 L487.3 313.7 L466.8 307 L444.5 301.4Z" fill="#edb120"/><path d="M875.5 557.3 L897.8 564.3 L877.3 571.9 L855 564.9Z" fill="#e84a0f"/><path d="M383 557.5 L405.3 564.5 L384.8 572.1 L362.5 565.1Z" fill="#e84a0f"/><path d="M832.8 558 L855 564.9 L834.5 572.5 L812.3 565.6Z" fill="#e84a0f"/><path d="M271.8 264.7 L294 267 L273.5 260.6 L251.3 258.4Z" fill="#edb120"/><path d="M340.3 558.2 L362.5 565.1 L342 572.8 L319.8 565.8Z" fill="#e84a0f"/><path d="M790 558.6 L812.3 565.6 L791.8 573.2 L769.5 566.2Z" fill="#e84a0f"/><path d="M297.5 558.9 L319.8 565.8 L299.3 573.4 L277 566.5Z" fill="#e84a0f"/><path d="M572.8 342.6 L595 349.8 L574.5 341.5 L552.3 334.5Z" fill="#edb120"/><path d="M896 492.2 L918.3 499.1 L897.8 479.8 L875.5 472.9Z" fill="#edb120"/><path d="M747.3 559.3 L769.5 566.2 L749 573.9 L726.8 566.9Z" fill="#e84a0f"/><path d="M422.3 296.4 L444.5 301.4 L424 294.9 L401.8 290.1Z" fill="#edb120"/><path d="M254.8 559.5 L277 566.5 L256.5 574 L234.3 567.1Z" fill="#e84a0f"/><path d="M229 256.7 L251.3 258.4 L230.8 252 L208.5 250.3Z" fill="#edb120"/><path d="M704.5 560 L726.8 566.9 L706.3 574.5 L684 567.5Z" fill="#e84a0f"/><path d="M680.5 384.8 L702.8 391.9 L682.3 380.6 L660 373.5Z" fill="#edb120"/><path d="M788.3 434.6 L810.5 441.5 L790 426.1 L767.8 419.1Z" fill="#edb120"/><path d="M212 560.2 L234.3 567.1 L213.8 574.7 L191.5 567.8Z" fill="#e84a0f"/><path d="M661.8 560.6 L684 567.5 L663.5 575.1 L641.3 568.2Z" fill="#e84a0f"/><path d="M169.3 560.8 L191.5 567.8 L171 575.4 L148.8 568.4Z" fill="#e84a0f"/><path d="M619 561.2 L641.3 568.2 L620.8 575.8 L598.5 568.9Z" fill="#e84a0f"/><path d="M379.5 285.9 L401.8 290.1 L381.3 283.7 L359 279.6Z" fill="#edb120"/><path d="M530 327.5 L552.3 334.5 L531.8 327.2 L509.5 320.3Z" fill="#edb120"/><path d="M186.3 249.1 L208.5 250.3 L188 243.9 L165.8 242.7Z" fill="#edb120"/><path d="M576.3 561.9 L598.5 568.9 L578 576.5 L555.8 569.5Z" fill="#e84a0f"/><path d="M533.5 562.6 L555.8 569.5 L535.3 577.1 L513 570.2Z" fill="#e84a0f"/><path d="M637.8 366.4 L660 373.5 L639.5 363.9 L617.3 356.9Z" fill="#edb120"/><path d="M490.8 563.2 L513 570.2 L492.5 577.8 L470.3 570.8Z" fill="#e84a0f"/><path d="M853.3 465.9 L875.5 472.9 L855 455.3 L832.8 448.4Z" fill="#edb120"/><path d="M336.8 276.1 L359 279.6 L338.5 273.3 L316.3 269.8Z" fill="#edb120"/><path d="M745.5 412.2 L767.8 419.1 L747.3 405.9 L725 398.9Z" fill="#edb120"/><path d="M448 563.8 L470.3 570.8 L449.8 578.4 L427.5 571.4Z" fill="#e84a0f"/><path d="M487.3 313.7 L509.5 320.3 L489 313.5 L466.8 307Z" fill="#edb120"/><path d="M405.3 564.5 L427.5 571.4 L407 579 L384.8 572.1Z" fill="#e84a0f"/><path d="M855 564.9 L877.3 571.9 L856.8 579.5 L834.5 572.5Z" fill="#e84a0f"/><path d="M362.5 565.1 L384.8 572.1 L364.3 579.7 L342 572.8Z" fill="#e84a0f"/><path d="M294 267 L316.3 269.8 L295.8 263.5 L273.5 260.6Z" fill="#edb120"/><path d="M812.3 565.6 L834.5 572.5 L814 580.1 L791.8 573.2Z" fill="#e84a0f"/><path d="M319.8 565.8 L342 572.8 L321.5 580.3 L299.3 573.4Z" fill="#e84a0f"/><path d="M595 349.8 L617.3 356.9 L596.8 348.5 L574.5 341.5Z" fill="#edb120"/><path d="M769.5 566.2 L791.8 573.2 L771.3 580.8 L749 573.9Z" fill="#e84a0f"/><path d="M277 566.5 L299.3 573.4 L278.8 581 L256.5 574Z" fill="#e84a0f"/><path d="M444.5 301.4 L466.8 307 L446.3 300.5 L424 294.9Z" fill="#edb120"/><path d="M726.8 566.9 L749 573.9 L728.5 581.4 L706.3 574.5Z" fill="#e84a0f"/><path d="M702.8 391.9 L725 398.9 L704.5 387.6 L682.3 380.6Z" fill="#edb120"/><path d="M810.5 441.5 L832.8 448.4 L812.3 433 L790 426.1Z" fill="#edb120"/><path d="M234.3 567.1 L256.5 574 L236 581.6 L213.8 574.7Z" fill="#e84a0f"/><path d="M251.3 258.4 L273.5 260.6 L253 254.3 L230.8 252Z" fill="#edb120"/><path d="M684 567.5 L706.3 574.5 L685.8 582.1 L663.5 575.1Z" fill="#e84a0f"/><path d="M191.5 567.8 L213.8 574.7 L193.3 582.3 L171 575.4Z" fill="#e84a0f"/><path d="M641.3 568.2 L663.5 575.1 L643 582.8 L620.8 575.8Z" fill="#e84a0f"/><path d="M552.3 334.5 L574.5 341.5 L554 334.1 L531.8 327.2Z" fill="#edb120"/><path d="M401.8 290.1 L424 294.9 L403.5 288.6 L381.3 283.7Z" fill="#edb120"/><path d="M598.5 568.9 L620.8 575.8 L600.3 583.4 L578 576.5Z" fill="#e84a0f"/><path d="M208.5 250.3 L230.8 252 L210.3 245.6 L188 243.9Z" fill="#edb120"/><path d="M555.8 569.5 L578 576.5 L557.5 584.1 L535.3 577.1Z" fill="#e84a0f"/><path d="M660 373.5 L682.3 380.6 L661.8 371 L639.5 363.9Z" fill="#edb120"/><path d="M513 570.2 L535.3 577.1 L514.8 584.7 L492.5 577.8Z" fill="#e84a0f"/><path d="M875.5 472.9 L897.8 479.8 L877.3 462.3 L855 455.3Z" fill="#edb120"/><path d="M767.8 419.1 L790 426.1 L769.5 412.8 L747.3 405.9Z" fill="#edb120"/><path d="M470.3 570.8 L492.5 577.8 L472 585.4 L449.8 578.4Z" fill="#e84a0f"/><path d="M359 279.6 L381.3 283.7 L360.8 277.4 L338.5 273.3Z" fill="#edb120"/><path d="M165.8 242.7 L188 243.9 L167.5 237.5 L145.3 236.3Z" fill="#edb120"/><path d="M509.5 320.3 L531.8 327.2 L511.3 320.3 L489 313.5Z" fill="#edb120"/><path d="M427.5 571.4 L449.8 578.4 L429.3 586 L407 579Z" fill="#e84a0f"/><path d="M384.8 572.1 L407 579 L386.5 586.6 L364.3 579.7Z" fill="#e84a0f"/><path d="M834.5 572.5 L856.8 579.5 L836.3 587.1 L814 580.1Z" fill="#e84a0f"/><path d="M342 572.8 L364.3 579.7 L343.8 587.3 L321.5 580.3Z" fill="#e84a0f"/><path d="M617.3 356.9 L639.5 363.9 L619 355.5 L596.8 348.5Z" fill="#edb120"/><path d="M316.3 269.8 L338.5 273.3 L318 266.9 L295.8 263.5Z" fill="#edb120"/><path d="M791.8 573.2 L814 580.1 L793.5 587.8 L771.3 580.8Z" fill="#e84a0f"/><path d="M299.3 573.4 L321.5 580.3 L301 588 L278.8 581Z" fill="#e84a0f"/><path d="M466.8 307 L489 313.5 L468.5 306.9 L446.3 300.5Z" fill="#edb120"/><path d="M725 398.9 L747.3 405.9 L726.8 394.6 L704.5 387.6Z" fill="#edb120"/><path d="M749 573.9 L771.3 580.8 L750.8 588.4 L728.5 581.4Z" fill="#e84a0f"/><path d="M832.8 448.4 L855 455.3 L834.5 439.9 L812.3 433Z" fill="#edb120"/><path d="M256.5 574 L278.8 581 L258.3 588.6 L236 581.6Z" fill="#e84a0f"/><path d="M706.3 574.5 L728.5 581.4 L708 589 L685.8 582.1Z" fill="#e84a0f"/><path d="M213.8 574.7 L236 581.6 L215.5 589.2 L193.3 582.3Z" fill="#e84a0f"/><path d="M273.5 260.6 L295.8 263.5 L275.3 257.1 L253 254.3Z" fill="#edb120"/><path d="M663.5 575.1 L685.8 582.1 L665.3 589.7 L643 582.8Z" fill="#e84a0f"/><path d="M574.5 341.5 L596.8 348.5 L576.3 341 L554 334.1Z" fill="#edb120"/><path d="M620.8 575.8 L643 582.8 L622.5 590.4 L600.3 583.4Z" fill="#e84a0f"/><path d="M424 294.9 L446.3 300.5 L425.8 294.1 L403.5 288.6Z" fill="#edb120"/><path d="M578 576.5 L600.3 583.4 L579.8 591 L557.5 584.1Z" fill="#e84a0f"/><path d="M230.8 252 L253 254.3 L232.5 247.9 L210.3 245.6Z" fill="#edb120"/><path d="M682.3 380.6 L704.5 387.6 L684 377.9 L661.8 371Z" fill="#edb120"/><path d="M535.3 577.1 L557.5 584.1 L537 591.6 L514.8 584.7Z" fill="#e84a0f"/><path d="M790 426.1 L812.3 433 L791.8 419.7 L769.5 412.8Z" fill="#edb120"/><path d="M492.5 577.8 L514.8 584.7 L494.3 592.3 L472 585.4Z" fill="#e84a0f"/><path d="M531.8 327.2 L554 334.1 L533.5 327.1 L511.3 320.3Z" fill="#edb120"/><path d="M381.3 283.7 L403.5 288.6 L383 282.2 L360.8 277.4Z" fill="#edb120"/><path d="M449.8 578.4 L472 585.4 L451.5 593 L429.3 586Z" fill="#e84a0f"/><path d="M188 243.9 L210.3 245.6 L189.8 239.3 L167.5 237.5Z" fill="#edb120"/><path d="M407 579 L429.3 586 L408.8 593.6 L386.5 586.6Z" fill="#e84a0f"/><path d="M364.3 579.7 L386.5 586.6 L366 594.2 L343.8 587.3Z" fill="#e84a0f"/><path d="M639.5 363.9 L661.8 371 L641.3 362.5 L619 355.5Z" fill="#edb120"/><path d="M814 580.1 L836.3 587.1 L815.8 594.7 L793.5 587.8Z" fill="#e84a0f"/><path d="M338.5 273.3 L360.8 277.4 L340.3 271.1 L318 266.9Z" fill="#edb120"/><path d="M321.5 580.3 L343.8 587.3 L323.3 594.9 L301 588Z" fill="#e84a0f"/><path d="M145.3 236.3 L167.5 237.5 L147 231.1 L124.8 229.9Z" fill="#edb120"/><path d="M489 313.5 L511.3 320.3 L490.8 313.6 L468.5 306.9Z" fill="#edb120"/><path d="M747.3 405.9 L769.5 412.8 L749 401.5 L726.8 394.6Z" fill="#edb120"/><path d="M771.3 580.8 L793.5 587.8 L773 595.3 L750.8 588.4Z" fill="#e84a0f"/><path d="M855 455.3 L877.3 462.3 L856.8 446.8 L834.5 439.9Z" fill="#edb120"/><path d="M278.8 581 L301 588 L280.5 595.5 L258.3 588.6Z" fill="#e84a0f"/><path d="M728.5 581.4 L750.8 588.4 L730.3 596 L708 589Z" fill="#e84a0f"/><path d="M236 581.6 L258.3 588.6 L237.8 596.2 L215.5 589.2Z" fill="#e84a0f"/><path d="M685.8 582.1 L708 589 L687.5 596.6 L665.3 589.7Z" fill="#e84a0f"/><path d="M295.8 263.5 L318 266.9 L297.5 260.6 L275.3 257.1Z" fill="#edb120"/><path d="M596.8 348.5 L619 355.5 L598.5 347.9 L576.3 341Z" fill="#edb120"/><path d="M643 582.8 L665.3 589.7 L644.8 597.3 L622.5 590.4Z" fill="#e84a0f"/><path d="M446.3 300.5 L468.5 306.9 L448 300.4 L425.8 294.1Z" fill="#edb120"/><path d="M600.3 583.4 L622.5 590.4 L602 598 L579.8 591Z" fill="#e84a0f"/><path d="M704.5 387.6 L726.8 394.6 L706.3 384.9 L684 377.9Z" fill="#edb120"/><path d="M557.5 584.1 L579.8 591 L559.3 598.6 L537 591.6Z" fill="#e84a0f"/><path d="M253 254.3 L275.3 257.1 L254.8 250.8 L232.5 247.9Z" fill="#edb120"/><path d="M812.3 433 L834.5 439.9 L814 426.6 L791.8 419.7Z" fill="#edb120"/><path d="M514.8 584.7 L537 591.6 L516.5 599.2 L494.3 592.3Z" fill="#e84a0f"/><path d="M554 334.1 L576.3 341 L555.8 333.9 L533.5 327.1Z" fill="#edb120"/><path d="M472 585.4 L494.3 592.3 L473.8 599.9 L451.5 593Z" fill="#e84a0f"/><path d="M403.5 288.6 L425.8 294.1 L405.3 287.8 L383 282.2Z" fill="#edb120"/><path d="M429.3 586 L451.5 593 L431 600.6 L408.8 593.6Z" fill="#e84a0f"/><path d="M210.3 245.6 L232.5 247.9 L212 241.6 L189.8 239.3Z" fill="#edb120"/><path d="M386.5 586.6 L408.8 593.6 L388.3 601.2 L366 594.2Z" fill="#e84a0f"/><path d="M661.8 371 L684 377.9 L663.5 369.5 L641.3 362.5Z" fill="#edb120"/><path d="M343.8 587.3 L366 594.2 L345.5 601.8 L323.3 594.9Z" fill="#e84a0f"/><path d="M511.3 320.3 L533.5 327.1 L513 320.4 L490.8 313.6Z" fill="#edb120"/><path d="M360.8 277.4 L383 282.2 L362.5 275.9 L340.3 271.1Z" fill="#edb120"/><path d="M769.5 412.8 L791.8 419.7 L771.3 408.5 L749 401.5Z" fill="#edb120"/><path d="M793.5 587.8 L815.8 594.7 L795.3 602.3 L773 595.3Z" fill="#e84a0f"/><path d="M301 588 L323.3 594.9 L302.8 602.5 L280.5 595.5Z" fill="#e84a0f"/><path d="M167.5 237.5 L189.8 239.3 L169.3 232.9 L147 231.1Z" fill="#edb120"/><path d="M750.8 588.4 L773 595.3 L752.5 602.9 L730.3 596Z" fill="#e84a0f"/><path d="M258.3 588.6 L280.5 595.5 L260 603.1 L237.8 596.2Z" fill="#e84a0f"/><path d="M708 589 L730.3 596 L709.8 603.6 L687.5 596.6Z" fill="#e84a0f"/><path d="M619 355.5 L641.3 362.5 L620.8 354.8 L598.5 347.9Z" fill="#edb120"/><path d="M665.3 589.7 L687.5 596.6 L667 604.2 L644.8 597.3Z" fill="#e84a0f"/><path d="M318 266.9 L340.3 271.1 L319.8 264.8 L297.5 260.6Z" fill="#edb120"/><path d="M124.8 229.9 L147 231.1 L126.5 224.7 L104.3 223.5Z" fill="#edb120"/><path d="M468.5 306.9 L490.8 313.6 L470.3 307.1 L448 300.4Z" fill="#edb120"/><path d="M622.5 590.4 L644.8 597.3 L624.3 604.9 L602 598Z" fill="#e84a0f"/><path d="M726.8 394.6 L749 401.5 L728.5 391.9 L706.3 384.9Z" fill="#edb120"/><path d="M579.8 591 L602 598 L581.5 605.5 L559.3 598.6Z" fill="#e84a0f"/><path d="M834.5 439.9 L856.8 446.8 L836.3 433.6 L814 426.6Z" fill="#edb120"/><path d="M537 591.6 L559.3 598.6 L538.8 606.2 L516.5 599.2Z" fill="#e84a0f"/><path d="M275.3 257.1 L297.5 260.6 L277 254.3 L254.8 250.8Z" fill="#edb120"/><path d="M576.3 341 L598.5 347.9 L578 340.8 L555.8 333.9Z" fill="#edb120"/><path d="M494.3 592.3 L516.5 599.2 L496 606.9 L473.8 599.9Z" fill="#e84a0f"/><path d="M425.8 294.1 L448 300.4 L427.5 294.1 L405.3 287.8Z" fill="#edb120"/><path d="M451.5 593 L473.8 599.9 L453.3 607.5 L431 600.6Z" fill="#e84a0f"/><path d="M408.8 593.6 L431 600.6 L410.5 608.2 L388.3 601.2Z" fill="#e84a0f"/><path d="M684 377.9 L706.3 384.9 L685.8 376.4 L663.5 369.5Z" fill="#edb120"/><path d="M232.5 247.9 L254.8 250.8 L234.3 244.5 L212 241.6Z" fill="#edb120"/><path d="M366 594.2 L388.3 601.2 L367.8 608.8 L345.5 601.8Z" fill="#e84a0f"/><path d="M533.5 327.1 L555.8 333.9 L535.3 327.2 L513 320.4Z" fill="#edb120"/><path d="M791.8 419.7 L814 426.6 L793.5 415.4 L771.3 408.5Z" fill="#edb120"/><path d="M383 282.2 L405.3 287.8 L384.8 281.5 L362.5 275.9Z" fill="#edb120"/><path d="M323.3 594.9 L345.5 601.8 L325 609.4 L302.8 602.5Z" fill="#e84a0f"/><path d="M773 595.3 L795.3 602.3 L774.8 609.9 L752.5 602.9Z" fill="#e84a0f"/><path d="M280.5 595.5 L302.8 602.5 L282.3 610.1 L260 603.1Z" fill="#e84a0f"/><path d="M189.8 239.3 L212 241.6 L191.5 235.2 L169.3 232.9Z" fill="#edb120"/><path d="M730.3 596 L752.5 602.9 L732 610.5 L709.8 603.6Z" fill="#e84a0f"/><path d="M641.3 362.5 L663.5 369.5 L643 361.8 L620.8 354.8Z" fill="#edb120"/><path d="M687.5 596.6 L709.8 603.6 L689.3 611.2 L667 604.2Z" fill="#e84a0f"/><path d="M490.8 313.6 L513 320.4 L492.5 313.9 L470.3 307.1Z" fill="#edb120"/><path d="M340.3 271.1 L362.5 275.9 L342 269.6 L319.8 264.8Z" fill="#edb120"/><path d="M644.8 597.3 L667 604.2 L646.5 611.9 L624.3 604.9Z" fill="#e84a0f"/><path d="M147 231.1 L169.3 232.9 L148.8 226.5 L126.5 224.7Z" fill="#edb120"/><path d="M749 401.5 L771.3 408.5 L750.8 398.8 L728.5 391.9Z" fill="#edb120"/><path d="M602 598 L624.3 604.9 L603.8 612.5 L581.5 605.5Z" fill="#e84a0f"/><path d="M559.3 598.6 L581.5 605.5 L561 613.1 L538.8 606.2Z" fill="#e84a0f"/><path d="M598.5 347.9 L620.8 354.8 L600.3 347.7 L578 340.8Z" fill="#edb120"/><path d="M297.5 260.6 L319.8 264.8 L299.3 258.5 L277 254.3Z" fill="#edb120"/><path d="M516.5 599.2 L538.8 606.2 L518.3 613.8 L496 606.9Z" fill="#e84a0f"/><path d="M448 300.4 L470.3 307.1 L449.8 300.7 L427.5 294.1Z" fill="#edb120"/><path d="M473.8 599.9 L496 606.9 L475.5 614.5 L453.3 607.5Z" fill="#e84a0f"/><path d="M431 600.6 L453.3 607.5 L432.8 615.1 L410.5 608.2Z" fill="#e84a0f"/><path d="M706.3 384.9 L728.5 391.9 L708 383.4 L685.8 376.4Z" fill="#edb120"/><path d="M388.3 601.2 L410.5 608.2 L390 615.8 L367.8 608.8Z" fill="#e84a0f"/><path d="M254.8 250.8 L277 254.3 L256.5 248 L234.3 244.5Z" fill="#edb120"/><path d="M555.8 333.9 L578 340.8 L557.5 334 L535.3 327.2Z" fill="#edb120"/><path d="M814 426.6 L836.3 433.6 L815.8 422.3 L793.5 415.4Z" fill="#edb120"/><path d="M345.5 601.8 L367.8 608.8 L347.3 616.4 L325 609.4Z" fill="#e84a0f"/><path d="M405.3 287.8 L427.5 294.1 L407 287.7 L384.8 281.5Z" fill="#edb120"/><path d="M302.8 602.5 L325 609.4 L304.5 617 L282.3 610.1Z" fill="#e84a0f"/><path d="M752.5 602.9 L774.8 609.9 L754.3 617.5 L732 610.5Z" fill="#e84a0f"/><path d="M212 241.6 L234.3 244.5 L213.8 238.2 L191.5 235.2Z" fill="#edb120"/><path d="M663.5 369.5 L685.8 376.4 L665.3 368.7 L643 361.8Z" fill="#edb120"/><path d="M709.8 603.6 L732 610.5 L711.5 618.1 L689.3 611.2Z" fill="#e84a0f"/><path d="M513 320.4 L535.3 327.2 L514.8 320.6 L492.5 313.9Z" fill="#edb120"/><path d="M362.5 275.9 L384.8 281.5 L364.3 275.2 L342 269.6Z" fill="#edb120"/><path d="M667 604.2 L689.3 611.2 L668.8 618.8 L646.5 611.9Z" fill="#e84a0f"/><path d="M771.3 408.5 L793.5 415.4 L773 405.7 L750.8 398.8Z" fill="#edb120"/><path d="M624.3 604.9 L646.5 611.9 L626 619.4 L603.8 612.5Z" fill="#e84a0f"/><path d="M169.3 232.9 L191.5 235.2 L171 228.9 L148.8 226.5Z" fill="#edb120"/><path d="M581.5 605.5 L603.8 612.5 L583.3 620.1 L561 613.1Z" fill="#e84a0f"/><path d="M620.8 354.8 L643 361.8 L622.5 354.6 L600.3 347.7Z" fill="#edb120"/><path d="M538.8 606.2 L561 613.1 L540.5 620.8 L518.3 613.8Z" fill="#e84a0f"/><path d="M470.3 307.1 L492.5 313.9 L472 307.4 L449.8 300.7Z" fill="#edb120"/><path d="M319.8 264.8 L342 269.6 L321.5 263.3 L299.3 258.5Z" fill="#edb120"/><path d="M496 606.9 L518.3 613.8 L497.8 621.4 L475.5 614.5Z" fill="#e84a0f"/><path d="M453.3 607.5 L475.5 614.5 L455 622 L432.8 615.1Z" fill="#e84a0f"/><path d="M728.5 391.9 L750.8 398.8 L730.3 390.3 L708 383.4Z" fill="#edb120"/><path d="M410.5 608.2 L432.8 615.1 L412.3 622.7 L390 615.8Z" fill="#e84a0f"/><path d="M578 340.8 L600.3 347.7 L579.8 340.9 L557.5 334Z" fill="#edb120"/><path d="M277 254.3 L299.3 258.5 L278.8 252.2 L256.5 248Z" fill="#edb120"/><path d="M367.8 608.8 L390 615.8 L369.5 623.4 L347.3 616.4Z" fill="#e84a0f"/><path d="M427.5 294.1 L449.8 300.7 L429.3 294.4 L407 287.7Z" fill="#edb120"/><path d="M325 609.4 L347.3 616.4 L326.8 624 L304.5 617Z" fill="#e84a0f"/><path d="M685.8 376.4 L708 383.4 L687.5 375.7 L665.3 368.7Z" fill="#edb120"/><path d="M732 610.5 L754.3 617.5 L733.8 625.1 L711.5 618.1Z" fill="#e84a0f"/><path d="M234.3 244.5 L256.5 248 L236 241.7 L213.8 238.2Z" fill="#edb120"/><path d="M535.3 327.2 L557.5 334 L537 327.5 L514.8 320.6Z" fill="#edb120"/><path d="M689.3 611.2 L711.5 618.1 L691 625.8 L668.8 618.8Z" fill="#e84a0f"/><path d="M384.8 281.5 L407 287.7 L386.5 281.4 L364.3 275.2Z" fill="#edb120"/><path d="M793.5 415.4 L815.8 422.3 L795.3 412.7 L773 405.7Z" fill="#edb120"/><path d="M646.5 611.9 L668.8 618.8 L648.3 626.4 L626 619.4Z" fill="#e84a0f"/><path d="M603.8 612.5 L626 619.4 L605.5 627 L583.3 620.1Z" fill="#e84a0f"/><path d="M191.5 235.2 L213.8 238.2 L193.3 231.8 L171 228.9Z" fill="#edb120"/><path d="M643 361.8 L665.3 368.7 L644.8 361.6 L622.5 354.6Z" fill="#edb120"/><path d="M561 613.1 L583.3 620.1 L562.8 627.7 L540.5 620.8Z" fill="#e84a0f"/><path d="M492.5 313.9 L514.8 320.6 L494.3 314.2 L472 307.4Z" fill="#edb120"/><path d="M342 269.6 L364.3 275.2 L343.8 268.9 L321.5 263.3Z" fill="#edb120"/><path d="M518.3 613.8 L540.5 620.8 L520 628.4 L497.8 621.4Z" fill="#e84a0f"/><path d="M475.5 614.5 L497.8 621.4 L477.3 629 L455 622Z" fill="#e84a0f"/><path d="M750.8 398.8 L773 405.7 L752.5 397.3 L730.3 390.3Z" fill="#edb120"/><path d="M432.8 615.1 L455 622 L434.5 629.7 L412.3 622.7Z" fill="#e84a0f"/><path d="M600.3 347.7 L622.5 354.6 L602 347.8 L579.8 340.9Z" fill="#edb120"/><path d="M390 615.8 L412.3 622.7 L391.8 630.3 L369.5 623.4Z" fill="#e84a0f"/><path d="M449.8 300.7 L472 307.4 L451.5 301.1 L429.3 294.4Z" fill="#edb120"/><path d="M299.3 258.5 L321.5 263.3 L301 257 L278.8 252.2Z" fill="#edb120"/><path d="M347.3 616.4 L369.5 623.4 L349 631 L326.8 624Z" fill="#e84a0f"/><path d="M708 383.4 L730.3 390.3 L709.8 382.6 L687.5 375.7Z" fill="#edb120"/><path d="M557.5 334 L579.8 340.9 L559.3 334.3 L537 327.5Z" fill="#edb120"/><path d="M256.5 248 L278.8 252.2 L258.3 245.9 L236 241.7Z" fill="#edb120"/><path d="M711.5 618.1 L733.8 625.1 L713.3 632.7 L691 625.8Z" fill="#e84a0f"/><path d="M407 287.7 L429.3 294.4 L408.8 288.1 L386.5 281.4Z" fill="#edb120"/><path d="M668.8 618.8 L691 625.8 L670.5 633.3 L648.3 626.4Z" fill="#e84a0f"/><path d="M626 619.4 L648.3 626.4 L627.8 634 L605.5 627Z" fill="#e84a0f"/><path d="M665.3 368.7 L687.5 375.7 L667 368.5 L644.8 361.6Z" fill="#edb120"/><path d="M583.3 620.1 L605.5 627 L585 634.6 L562.8 627.7Z" fill="#e84a0f"/><path d="M213.8 238.2 L236 241.7 L215.5 235.4 L193.3 231.8Z" fill="#edb120"/><path d="M514.8 320.6 L537 327.5 L516.5 321 L494.3 314.2Z" fill="#edb120"/><path d="M364.3 275.2 L386.5 281.4 L366 275.1 L343.8 268.9Z" fill="#edb120"/><path d="M540.5 620.8 L562.8 627.7 L542.3 635.3 L520 628.4Z" fill="#e84a0f"/><path d="M497.8 621.4 L520 628.4 L499.5 636 L477.3 629Z" fill="#e84a0f"/><path d="M773 405.7 L795.3 412.7 L774.8 404.2 L752.5 397.3Z" fill="#edb120"/><path d="M455 622 L477.3 629 L456.8 636.6 L434.5 629.7Z" fill="#e84a0f"/><path d="M622.5 354.6 L644.8 361.6 L624.3 354.8 L602 347.8Z" fill="#edb120"/><path d="M412.3 622.7 L434.5 629.7 L414 637.2 L391.8 630.3Z" fill="#e84a0f"/><path d="M472 307.4 L494.3 314.2 L473.8 307.8 L451.5 301.1Z" fill="#edb120"/><path d="M321.5 263.3 L343.8 268.9 L323.3 262.6 L301 257Z" fill="#edb120"/><path d="M369.5 623.4 L391.8 630.3 L371.3 637.9 L349 631Z" fill="#e84a0f"/><path d="M730.3 390.3 L752.5 397.3 L732 389.6 L709.8 382.6Z" fill="#edb120"/><path d="M579.8 340.9 L602 347.8 L581.5 341.2 L559.3 334.3Z" fill="#edb120"/><path d="M278.8 252.2 L301 257 L280.5 250.7 L258.3 245.9Z" fill="#edb120"/><path d="M429.3 294.4 L451.5 301.1 L431 294.7 L408.8 288.1Z" fill="#edb120"/><path d="M691 625.8 L713.3 632.7 L692.8 640.3 L670.5 633.3Z" fill="#e84a0f"/><path d="M648.3 626.4 L670.5 633.3 L650 640.9 L627.8 634Z" fill="#e84a0f"/><path d="M687.5 375.7 L709.8 382.6 L689.3 375.5 L667 368.5Z" fill="#edb120"/><path d="M605.5 627 L627.8 634 L607.3 641.6 L585 634.6Z" fill="#e84a0f"/><path d="M537 327.5 L559.3 334.3 L538.8 327.9 L516.5 321Z" fill="#edb120"/><path d="M236 241.7 L258.3 245.9 L237.8 239.6 L215.5 235.4Z" fill="#edb120"/><path d="M562.8 627.7 L585 634.6 L564.5 642.2 L542.3 635.3Z" fill="#e84a0f"/><path d="M386.5 281.4 L408.8 288.1 L388.3 281.8 L366 275.1Z" fill="#edb120"/><path d="M520 628.4 L542.3 635.3 L521.8 642.9 L499.5 636Z" fill="#e84a0f"/><path d="M477.3 629 L499.5 636 L479 643.5 L456.8 636.6Z" fill="#e84a0f"/><path d="M644.8 361.6 L667 368.5 L646.5 361.7 L624.3 354.8Z" fill="#edb120"/><path d="M434.5 629.7 L456.8 636.6 L436.3 644.2 L414 637.2Z" fill="#e84a0f"/><path d="M494.3 314.2 L516.5 321 L496 314.6 L473.8 307.8Z" fill="#edb120"/><path d="M343.8 268.9 L366 275.1 L345.5 268.8 L323.3 262.6Z" fill="#edb120"/><path d="M391.8 630.3 L414 637.2 L393.5 644.9 L371.3 637.9Z" fill="#e84a0f"/><path d="M752.5 397.3 L774.8 404.2 L754.3 396.5 L732 389.6Z" fill="#edb120"/><path d="M602 347.8 L624.3 354.8 L603.8 348.2 L581.5 341.2Z" fill="#edb120"/><path d="M451.5 301.1 L473.8 307.8 L453.3 301.5 L431 294.7Z" fill="#edb120"/><path d="M301 257 L323.3 262.6 L302.8 256.3 L280.5 250.7Z" fill="#edb120"/><path d="M670.5 633.3 L692.8 640.3 L672.3 647.9 L650 640.9Z" fill="#e84a0f"/><path d="M709.8 382.6 L732 389.6 L711.5 382.5 L689.3 375.5Z" fill="#edb120"/><path d="M627.8 634 L650 640.9 L629.5 648.5 L607.3 641.6Z" fill="#e84a0f"/><path d="M559.3 334.3 L581.5 341.2 L561 334.7 L538.8 327.9Z" fill="#edb120"/><path d="M585 634.6 L607.3 641.6 L586.8 649.2 L564.5 642.2Z" fill="#e84a0f"/><path d="M258.3 245.9 L280.5 250.7 L260 244.4 L237.8 239.6Z" fill="#edb120"/><path d="M408.8 288.1 L431 294.7 L410.5 288.4 L388.3 281.8Z" fill="#edb120"/><path d="M542.3 635.3 L564.5 642.2 L544 649.8 L521.8 642.9Z" fill="#e84a0f"/><path d="M499.5 636 L521.8 642.9 L501.3 650.5 L479 643.5Z" fill="#e84a0f"/><path d="M667 368.5 L689.3 375.5 L668.8 368.7 L646.5 361.7Z" fill="#edb120"/><path d="M456.8 636.6 L479 643.5 L458.5 651.1 L436.3 644.2Z" fill="#e84a0f"/><path d="M516.5 321 L538.8 327.9 L518.3 321.5 L496 314.6Z" fill="#edb120"/><path d="M366 275.1 L388.3 281.8 L367.8 275.5 L345.5 268.8Z" fill="#edb120"/><path d="M414 637.2 L436.3 644.2 L415.8 651.8 L393.5 644.9Z" fill="#e84a0f"/><path d="M624.3 354.8 L646.5 361.7 L626 355.1 L603.8 348.2Z" fill="#edb120"/><path d="M473.8 307.8 L496 314.6 L475.5 308.3 L453.3 301.5Z" fill="#edb120"/><path d="M323.3 262.6 L345.5 268.8 L325 262.5 L302.8 256.3Z" fill="#edb120"/><path d="M732 389.6 L754.3 396.5 L733.8 389.4 L711.5 382.5Z" fill="#edb120"/><path d="M650 640.9 L672.3 647.9 L651.8 655.5 L629.5 648.5Z" fill="#e84a0f"/><path d="M581.5 341.2 L603.8 348.2 L583.3 341.7 L561 334.7Z" fill="#edb120"/><path d="M607.3 641.6 L629.5 648.5 L609 656.1 L586.8 649.2Z" fill="#e84a0f"/><path d="M431 294.7 L453.3 301.5 L432.8 295.2 L410.5 288.4Z" fill="#edb120"/><path d="M280.5 250.7 L302.8 256.3 L282.3 250 L260 244.4Z" fill="#edb120"/><path d="M564.5 642.2 L586.8 649.2 L566.3 656.8 L544 649.8Z" fill="#e84a0f"/><path d="M521.8 642.9 L544 649.8 L523.5 657.5 L501.3 650.5Z" fill="#e84a0f"/><path d="M689.3 375.5 L711.5 382.5 L691 375.7 L668.8 368.7Z" fill="#edb120"/><path d="M479 643.5 L501.3 650.5 L480.8 658.1 L458.5 651.1Z" fill="#e84a0f"/><path d="M538.8 327.9 L561 334.7 L540.5 328.3 L518.3 321.5Z" fill="#edb120"/><path d="M388.3 281.8 L410.5 288.4 L390 282.1 L367.8 275.5Z" fill="#edb120"/><path d="M436.3 644.2 L458.5 651.1 L438 658.8 L415.8 651.8Z" fill="#e84a0f"/><path d="M646.5 361.7 L668.8 368.7 L648.3 362.1 L626 355.1Z" fill="#edb120"/><path d="M496 314.6 L518.3 321.5 L497.8 315.1 L475.5 308.3Z" fill="#edb120"/><path d="M345.5 268.8 L367.8 275.5 L347.3 269.2 L325 262.5Z" fill="#edb120"/><path d="M603.8 348.2 L626 355.1 L605.5 348.6 L583.3 341.7Z" fill="#edb120"/><path d="M629.5 648.5 L651.8 655.5 L631.3 663.1 L609 656.1Z" fill="#e84a0f"/><path d="M453.3 301.5 L475.5 308.3 L455 301.9 L432.8 295.2Z" fill="#edb120"/><path d="M302.8 256.3 L325 262.5 L304.5 256.3 L282.3 250Z" fill="#edb120"/><path d="M586.8 649.2 L609 656.1 L588.5 663.8 L566.3 656.8Z" fill="#e84a0f"/><path d="M544 649.8 L566.3 656.8 L545.8 664.4 L523.5 657.5Z" fill="#e84a0f"/><path d="M711.5 382.5 L733.8 389.4 L713.3 382.6 L691 375.7Z" fill="#edb120"/><path d="M501.3 650.5 L523.5 657.5 L503 665 L480.8 658.1Z" fill="#e84a0f"/><path d="M561 334.7 L583.3 341.7 L562.8 335.3 L540.5 328.3Z" fill="#edb120"/><path d="M410.5 288.4 L432.8 295.2 L412.3 288.9 L390 282.1Z" fill="#edb120"/><path d="M458.5 651.1 L480.8 658.1 L460.3 665.7 L438 658.8Z" fill="#e84a0f"/><path d="M668.8 368.7 L691 375.7 L670.5 369.1 L648.3 362.1Z" fill="#edb120"/><path d="M518.3 321.5 L540.5 328.3 L520 322 L497.8 315.1Z" fill="#edb120"/><path d="M367.8 275.5 L390 282.1 L369.5 275.8 L347.3 269.2Z" fill="#edb120"/><path d="M626 355.1 L648.3 362.1 L627.8 355.6 L605.5 348.6Z" fill="#edb120"/><path d="M475.5 308.3 L497.8 315.1 L477.3 308.8 L455 301.9Z" fill="#edb120"/><path d="M325 262.5 L347.3 269.2 L326.8 262.9 L304.5 256.3Z" fill="#edb120"/><path d="M609 656.1 L631.3 663.1 L610.8 670.7 L588.5 663.8Z" fill="#e84a0f"/><path d="M566.3 656.8 L588.5 663.8 L568 671.3 L545.8 664.4Z" fill="#e84a0f"/><path d="M523.5 657.5 L545.8 664.4 L525.3 672 L503 665Z" fill="#e84a0f"/><path d="M583.3 341.7 L605.5 348.6 L585 342.2 L562.8 335.3Z" fill="#edb120"/><path d="M480.8 658.1 L503 665 L482.5 672.6 L460.3 665.7Z" fill="#e84a0f"/><path d="M432.8 295.2 L455 301.9 L434.5 295.6 L412.3 288.9Z" fill="#edb120"/><path d="M691 375.7 L713.3 382.6 L692.8 376 L670.5 369.1Z" fill="#edb120"/><path d="M540.5 328.3 L562.8 335.3 L542.3 328.9 L520 322Z" fill="#edb120"/><path d="M390 282.1 L412.3 288.9 L391.8 282.6 L369.5 275.8Z" fill="#edb120"/><path d="M648.3 362.1 L670.5 369.1 L650 362.6 L627.8 355.6Z" fill="#edb120"/><path d="M497.8 315.1 L520 322 L499.5 315.7 L477.3 308.8Z" fill="#edb120"/><path d="M347.3 269.2 L369.5 275.8 L349 269.5 L326.8 262.9Z" fill="#edb120"/><path d="M588.5 663.8 L610.8 670.7 L590.3 678.3 L568 671.3Z" fill="#e84a0f"/><path d="M545.8 664.4 L568 671.3 L547.5 678.9 L525.3 672Z" fill="#e84a0f"/><path d="M605.5 348.6 L627.8 355.6 L607.3 349.2 L585 342.2Z" fill="#edb120"/><path d="M503 665 L525.3 672 L504.8 679.6 L482.5 672.6Z" fill="#e84a0f"/><path d="M455 301.9 L477.3 308.8 L456.8 302.5 L434.5 295.6Z" fill="#edb120"/><path d="M562.8 335.3 L585 342.2 L564.5 335.9 L542.3 328.9Z" fill="#edb120"/><path d="M412.3 288.9 L434.5 295.6 L414 289.3 L391.8 282.6Z" fill="#edb120"/><path d="M670.5 369.1 L692.8 376 L672.3 369.5 L650 362.6Z" fill="#edb120"/><path d="M520 322 L542.3 328.9 L521.8 322.6 L499.5 315.7Z" fill="#edb120"/><path d="M369.5 275.8 L391.8 282.6 L371.3 276.3 L349 269.5Z" fill="#edb120"/><path d="M568 671.3 L590.3 678.3 L569.8 685.9 L547.5 678.9Z" fill="#e84a0f"/><path d="M627.8 355.6 L650 362.6 L629.5 356.2 L607.3 349.2Z" fill="#edb120"/><path d="M525.3 672 L547.5 678.9 L527 686.5 L504.8 679.6Z" fill="#e84a0f"/><path d="M477.3 308.8 L499.5 315.7 L479 309.4 L456.8 302.5Z" fill="#edb120"/><path d="M585 342.2 L607.3 349.2 L586.8 342.9 L564.5 335.9Z" fill="#edb120"/><path d="M434.5 295.6 L456.8 302.5 L436.3 296.2 L414 289.3Z" fill="#edb120"/><path d="M542.3 328.9 L564.5 335.9 L544 329.6 L521.8 322.6Z" fill="#edb120"/><path d="M391.8 282.6 L414 289.3 L393.5 283 L371.3 276.3Z" fill="#edb120"/><path d="M650 362.6 L672.3 369.5 L651.8 363.1 L629.5 356.2Z" fill="#edb120"/><path d="M547.5 678.9 L569.8 685.9 L549.3 693.5 L527 686.5Z" fill="#e84a0f"/><path d="M499.5 315.7 L521.8 322.6 L501.3 316.3 L479 309.4Z" fill="#edb120"/><path d="M607.3 349.2 L629.5 356.2 L609 349.8 L586.8 342.9Z" fill="#edb120"/><path d="M456.8 302.5 L479 309.4 L458.5 303.1 L436.3 296.2Z" fill="#edb120"/><path d="M564.5 335.9 L586.8 342.9 L566.3 336.5 L544 329.6Z" fill="#edb120"/><path d="M414 289.3 L436.3 296.2 L415.8 289.9 L393.5 283Z" fill="#edb120"/><path d="M521.8 322.6 L544 329.6 L523.5 323.2 L501.3 316.3Z" fill="#edb120"/><path d="M629.5 356.2 L651.8 363.1 L631.3 356.8 L609 349.8Z" fill="#edb120"/><path d="M479 309.4 L501.3 316.3 L480.8 310 L458.5 303.1Z" fill="#edb120"/><path d="M586.8 342.9 L609 349.8 L588.5 343.5 L566.3 336.5Z" fill="#edb120"/><path d="M436.3 296.2 L458.5 303.1 L438 296.8 L415.8 289.9Z" fill="#edb120"/><path d="M544 329.6 L566.3 336.5 L545.8 330.2 L523.5 323.2Z" fill="#edb120"/><path d="M501.3 316.3 L523.5 323.2 L503 316.9 L480.8 310Z" fill="#edb120"/><path d="M609 349.8 L631.3 356.8 L610.8 350.5 L588.5 343.5Z" fill="#edb120"/><path d="M458.5 303.1 L480.8 310 L460.3 303.7 L438 296.8Z" fill="#edb120"/><path d="M566.3 336.5 L588.5 343.5 L568 337.2 L545.8 330.2Z" fill="#edb120"/><path d="M523.5 323.2 L545.8 330.2 L525.3 323.9 L503 316.9Z" fill="#edb120"/><path d="M480.8 310 L503 316.9 L482.5 310.7 L460.3 303.7Z" fill="#edb120"/><path d="M588.5 343.5 L610.8 350.5 L590.3 344.2 L568 337.2Z" fill="#edb120"/><path d="M545.8 330.2 L568 337.2 L547.5 330.9 L525.3 323.9Z" fill="#edb120"/><path d="M503 316.9 L525.3 323.9 L504.8 317.6 L482.5 310.7Z" fill="#edb120"/><path d="M568 337.2 L590.3 344.2 L569.8 337.9 L547.5 330.9Z" fill="#edb120"/><path d="M525.3 323.9 L547.5 330.9 L527 324.6 L504.8 317.6Z" fill="#edb120"/><path d="M547.5 330.9 L569.8 337.9 L549.3 331.6 L527 324.6Z" fill="#edb120"/></g>
<g stroke-linecap="square"><line x1="104.3" y1="157" x2="104.3" y2="687" stroke="#000" stroke-width="1.6"/><line x1="959.3" y1="144" x2="959.3" y2="674" stroke="#000" stroke-width="1.6"/><line x1="549.3" y1="296" x2="549.3" y2="826" stroke="#000" stroke-width="1.6"/><line x1="104.3" y1="157" x2="549.3" y2="296" stroke="#000" stroke-width="1.6"/><line x1="549.3" y1="296" x2="959.3" y2="144" stroke="#000" stroke-width="1.6"/><line x1="104.3" y1="687" x2="549.3" y2="826" stroke="#000" stroke-width="1.6"/><line x1="549.3" y1="826" x2="959.3" y2="674" stroke="#000" stroke-width="1.6"/><line x1="104.3" y1="687" x2="90.4" y2="682.6" stroke="#000" stroke-width="1.6"/><line x1="104.3" y1="554.5" x2="90.4" y2="550.1" stroke="#000" stroke-width="1.6"/><line x1="104.3" y1="422" x2="90.4" y2="417.6" stroke="#000" stroke-width="1.6"/><line x1="104.3" y1="289.5" x2="90.4" y2="285.1" stroke="#000" stroke-width="1.6"/><line x1="104.3" y1="157" x2="90.4" y2="152.6" stroke="#000" stroke-width="1.6"/><line x1="104.3" y1="687" x2="90.6" y2="692.1" stroke="#000" stroke-width="1.6"/><line x1="193.3" y1="714.8" x2="179.6" y2="719.9" stroke="#000" stroke-width="1.6"/><line x1="282.3" y1="742.6" x2="268.6" y2="747.7" stroke="#000" stroke-width="1.6"/><line x1="371.3" y1="770.4" x2="357.6" y2="775.5" stroke="#000" stroke-width="1.6"/><line x1="460.3" y1="798.2" x2="446.6" y2="803.3" stroke="#000" stroke-width="1.6"/><line x1="549.3" y1="826" x2="535.6" y2="831.1" stroke="#000" stroke-width="1.6"/><line x1="959.3" y1="674" x2="973.2" y2="678.4" stroke="#000" stroke-width="1.6"/><line x1="877.3" y1="704.4" x2="891.2" y2="708.8" stroke="#000" stroke-width="1.6"/><line x1="795.3" y1="734.8" x2="809.2" y2="739.2" stroke="#000" stroke-width="1.6"/><line x1="713.3" y1="765.2" x2="727.2" y2="769.6" stroke="#000" stroke-width="1.6"/><line x1="631.3" y1="795.6" x2="645.2" y2="800" stroke="#000" stroke-width="1.6"/></g>
<g fill="#000"><text x="78.4" y="692.1" font-family="Liberation Sans, sans-serif" font-size="32.6" text-anchor="end">20</text><text x="78.4" y="558.6" font-family="Liberation Sans, sans-serif" font-size="32.6" text-anchor="end">25</text><text x="78.4" y="426.3" font-family="Liberation Sans, sans-serif" font-size="32.6" text-anchor="end">30</text><text x="78.4" y="292.5" font-family="Liberation Sans, sans-serif" font-size="32.6" text-anchor="end">35</text><text x="78.4" y="160.3" font-family="Liberation Sans, sans-serif" font-size="32.6" text-anchor="end">40</text><text x="79.3" y="728.5" font-family="Liberation Sans, sans-serif" font-size="32.6" text-anchor="end">0</text><text x="168.3" y="756.3" font-family="Liberation Sans, sans-serif" font-size="32.6" text-anchor="end" letter-spacing="-0.85">0.2</text><text x="257.3" y="784.1" font-family="Liberation Sans, sans-serif" font-size="32.6" text-anchor="end" letter-spacing="-0.85">0.4</text><text x="346.3" y="811.9" font-family="Liberation Sans, sans-serif" font-size="32.6" text-anchor="end" letter-spacing="-0.85">0.6</text><text x="435.3" y="839.7" font-family="Liberation Sans, sans-serif" font-size="32.6" text-anchor="end" letter-spacing="-0.85">0.8</text><path d="M509.9 852 Q513.6 850.2 516.3 847.1 L516.3 866.8" fill="none" stroke="#000" stroke-width="2.7" stroke-linecap="round" stroke-linejoin="round"/><text x="984.8" y="714.7" font-family="Liberation Sans, sans-serif" font-size="32.6">0</text><text x="902.8" y="745.1" font-family="Liberation Sans, sans-serif" font-size="32.6" letter-spacing="-0.85">0.2</text><text x="820.8" y="775.5" font-family="Liberation Sans, sans-serif" font-size="32.6" letter-spacing="-0.85">0.4</text><text x="738.8" y="805.9" font-family="Liberation Sans, sans-serif" font-size="32.6" letter-spacing="-0.85">0.6</text><text x="656.8" y="836.3" font-family="Liberation Sans, sans-serif" font-size="32.6" letter-spacing="-0.85">0.8</text><text x="0" y="0" font-family="Liberation Serif, serif" font-size="41" text-anchor="middle" transform="translate(13,421.45) rotate(-90) scale(1.07,0.93) translate(0,10.3)">&#963;</text><text x="251.75" y="845.9" font-family="Liberation Serif, serif" font-size="44" text-anchor="middle">&#952;</text><text x="0" y="0" font-family="Liberation Serif, serif" font-size="43" text-anchor="middle" transform="translate(823.2,831.2) scale(1.2,1)">&#956;</text><text x="288.2" y="157.5" font-family="Liberation Serif, serif" font-size="43.5">TfMs</text><text x="590" y="736.4" font-family="Liberation Serif, serif" font-size="44">TdMd. TdMs</text></g>
<line x1="320.5" y1="168" x2="285.8" y2="212.4" stroke="#1296fc" stroke-width="2.9" stroke-dasharray="1.6 3.0 6.7 12.7 11.3 12.7 11.3 12.7"/><path d="M272 230.1 L281.9 199 L285.8 212.4 L299.8 213Z" fill="#1296fc"/><line x1="691.7" y1="703.9" x2="673.8" y2="673.7" stroke="#1296fc" stroke-width="2.9" stroke-dasharray="11.3 12.7"/><path d="M662.3 654.3 L687.7 674.8 L673.8 673.7 L668.1 686.4Z" fill="#1296fc"/>
</svg>
</body></html>
